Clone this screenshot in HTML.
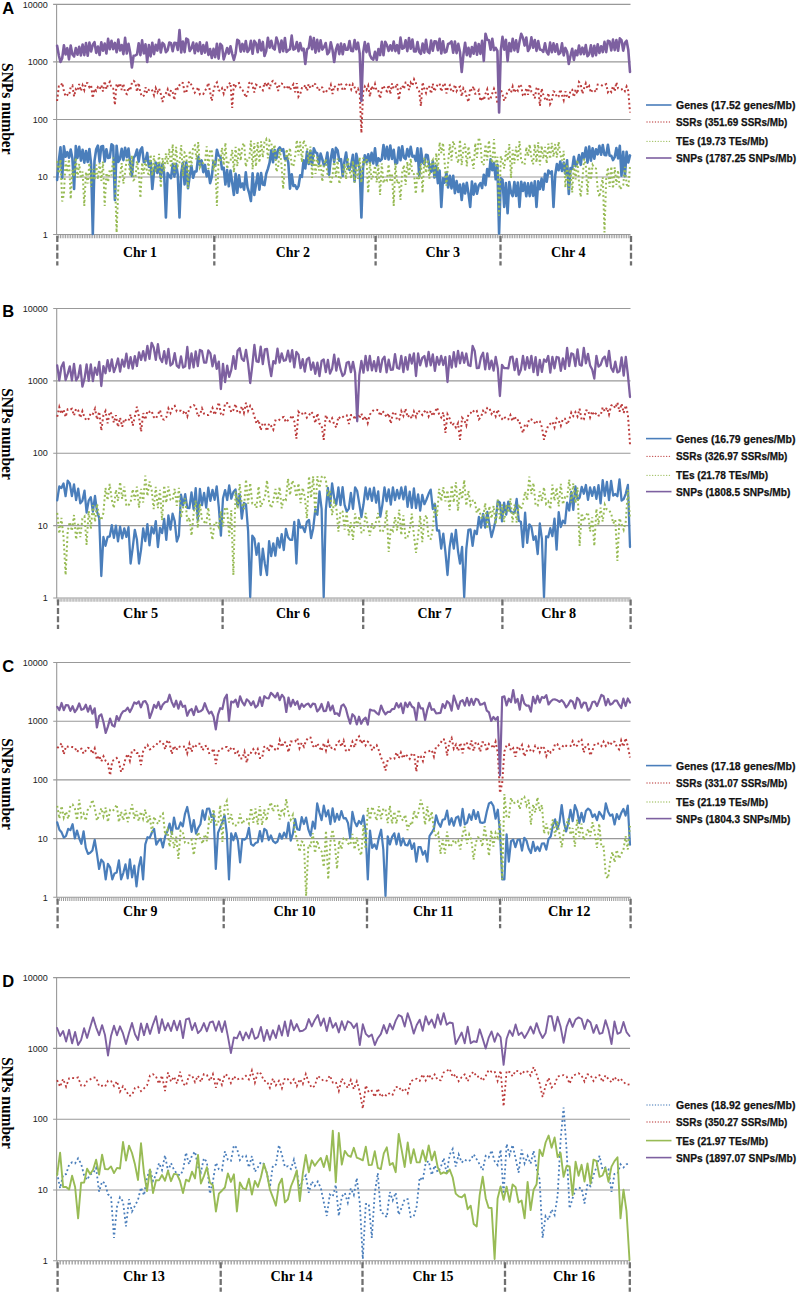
<!DOCTYPE html><html><head><meta charset="utf-8"><style>html,body{margin:0;padding:0;background:#fff;}svg{display:block;}</style></head><body><svg width="800" height="1298" viewBox="0 0 800 1298">
<rect width="800" height="1298" fill="#fff"/>
<line x1="53.1" y1="4.40" x2="630.5" y2="4.40" stroke="#999999" stroke-width="1.1"/>
<text x="47.8" y="7.60" text-anchor="end" font-family="Liberation Sans, sans-serif" font-size="9" fill="#222">10000</text>
<line x1="53.1" y1="61.92" x2="630.5" y2="61.92" stroke="#999999" stroke-width="1.1"/>
<text x="47.8" y="65.12" text-anchor="end" font-family="Liberation Sans, sans-serif" font-size="9" fill="#222">1000</text>
<line x1="53.1" y1="119.45" x2="630.5" y2="119.45" stroke="#999999" stroke-width="1.1"/>
<text x="47.8" y="122.65" text-anchor="end" font-family="Liberation Sans, sans-serif" font-size="9" fill="#222">100</text>
<line x1="53.1" y1="176.97" x2="630.5" y2="176.97" stroke="#999999" stroke-width="1.1"/>
<text x="47.8" y="180.17" text-anchor="end" font-family="Liberation Sans, sans-serif" font-size="9" fill="#222">10</text>
<line x1="53.1" y1="234.50" x2="630.5" y2="234.50" stroke="#999999" stroke-width="1.1"/>
<text x="47.8" y="237.70" text-anchor="end" font-family="Liberation Sans, sans-serif" font-size="9" fill="#222">1</text>
<line x1="56.6" y1="3.90" x2="56.6" y2="234.50" stroke="#999999" stroke-width="1.1"/>
<line x1="56.6" y1="236.50" x2="630.5" y2="236.50" stroke="#999" stroke-width="3.6" stroke-dasharray="0.9 0.8"/>
<line x1="57.3" y1="236.00" x2="57.3" y2="265.50" stroke="#6f6f6f" stroke-width="2.3" stroke-dasharray="6 2.4"/>
<line x1="214.3" y1="236.00" x2="214.3" y2="265.50" stroke="#6f6f6f" stroke-width="2.3" stroke-dasharray="6 2.4"/>
<line x1="375.6" y1="236.00" x2="375.6" y2="265.50" stroke="#6f6f6f" stroke-width="2.3" stroke-dasharray="6 2.4"/>
<line x1="500.5" y1="236.00" x2="500.5" y2="265.50" stroke="#6f6f6f" stroke-width="2.3" stroke-dasharray="6 2.4"/>
<line x1="631" y1="236.00" x2="631" y2="265.50" stroke="#6f6f6f" stroke-width="2.3" stroke-dasharray="6 2.4"/>
<text x="123.1" y="256.9" font-family="Liberation Serif, serif" font-weight="bold" font-size="14" textLength="33.9" lengthAdjust="spacingAndGlyphs" fill="#000">Chr 1</text>
<text x="275.75" y="256.9" font-family="Liberation Serif, serif" font-weight="bold" font-size="14" textLength="34.2" lengthAdjust="spacingAndGlyphs" fill="#000">Chr 2</text>
<text x="425.5" y="256.9" font-family="Liberation Serif, serif" font-weight="bold" font-size="14" textLength="34.5" lengthAdjust="spacingAndGlyphs" fill="#000">Chr 3</text>
<text x="551" y="256.9" font-family="Liberation Serif, serif" font-weight="bold" font-size="14" textLength="34.6" lengthAdjust="spacingAndGlyphs" fill="#000">Chr 4</text>
<text x="2.3" y="13.8" font-family="Liberation Sans, sans-serif" font-weight="bold" font-size="16.5" fill="#000">A</text>
<text transform="translate(1.8,108.8) rotate(90)" text-anchor="middle" font-family="Liberation Serif, serif" font-weight="bold" font-size="16" textLength="91.5" lengthAdjust="spacingAndGlyphs" fill="#000">SNPs number</text>
<path d="M57.1,180.0 L58.8,161.1 L60.5,147.2 L62.2,178.0 L63.9,146.4 L65.6,156.8 L67.3,152.2 L69.0,157.7 L70.7,149.5 L72.4,158.5 L74.1,189.0 L75.8,146.1 L77.5,157.9 L79.2,146.9 L80.9,160.6 L82.6,149.8 L84.3,162.7 L86.0,151.0 L87.7,162.0 L89.4,149.0 L91.1,164.2 L92.8,234.0 L94.5,160.9 L96.2,149.3 L97.9,145.6 L99.6,161.6 L101.3,146.4 L103.0,146.0 L104.7,161.5 L106.4,149.3 L108.1,157.9 L109.8,157.5 L111.5,144.3 L113.2,145.7 L114.9,200.0 L116.6,145.7 L118.3,161.9 L120.0,159.0 L121.7,148.7 L123.4,160.1 L125.1,147.7 L126.8,157.1 L128.5,148.6 L130.2,163.6 L131.9,176.0 L133.6,157.7 L135.3,155.4 L137.0,149.5 L138.7,161.6 L140.4,150.2 L142.1,147.3 L143.8,162.2 L145.5,161.3 L147.2,152.9 L148.9,166.8 L150.6,161.1 L152.3,189.0 L154.0,171.7 L155.7,162.6 L157.4,173.0 L159.1,163.7 L160.8,178.1 L162.5,164.0 L164.2,174.0 L165.9,217.5 L167.6,173.1 L169.3,176.0 L171.0,178.2 L172.7,164.1 L174.4,176.6 L176.1,163.7 L177.8,175.2 L179.5,217.5 L181.2,173.3 L182.9,162.8 L184.6,184.4 L186.3,162.3 L188.0,188.2 L189.7,175.7 L191.4,165.8 L193.1,177.8 L194.8,171.6 L196.5,171.4 L198.2,156.6 L199.9,164.9 L201.6,160.4 L203.3,172.1 L205.0,164.9 L206.7,176.4 L208.4,170.9 L210.1,183.1 L211.8,176.7 L213.5,161.5 L215.2,165.7 L216.9,149.7 L218.6,155.6 L220.3,156.2 L222.0,169.3 L223.7,167.6 L225.4,184.5 L227.1,170.1 L228.8,186.3 L230.5,170.5 L232.2,182.8 L233.9,195.0 L235.6,173.8 L237.3,192.8 L239.0,175.4 L240.7,187.3 L242.4,183.5 L244.1,189.7 L245.8,172.4 L247.5,187.4 L249.2,193.0 L250.9,201.1 L252.6,173.4 L254.3,195.0 L256.0,184.2 L257.7,173.5 L259.4,189.7 L261.1,173.0 L262.8,184.6 L264.5,185.1 L266.2,173.8 L267.9,168.9 L269.6,162.7 L271.3,150.2 L273.0,162.3 L274.7,150.0 L276.4,158.6 L278.1,149.5 L279.8,147.4 L281.5,150.6 L283.2,149.2 L284.9,159.0 L286.6,156.4 L288.3,162.7 L290.0,188.7 L291.7,174.2 L293.4,186.0 L295.1,185.3 L296.8,189.0 L298.5,186.2 L300.2,175.3 L301.9,176.8 L303.6,160.3 L305.3,168.5 L307.0,151.5 L308.7,164.0 L310.4,150.8 L312.1,165.3 L313.8,148.4 L315.5,152.2 L317.2,153.4 L318.9,163.7 L320.6,153.6 L322.3,159.2 L324.0,165.7 L325.7,161.9 L327.4,152.6 L329.1,174.6 L330.8,158.8 L332.5,149.2 L334.2,161.9 L335.9,147.9 L337.6,150.2 L339.3,160.8 L341.0,159.2 L342.7,176.0 L344.4,161.8 L346.1,152.5 L347.8,166.5 L349.5,169.9 L351.2,164.7 L352.9,154.7 L354.6,181.5 L356.3,153.7 L358.0,161.9 L359.7,168.4 L361.4,217.5 L363.1,167.0 L364.8,155.2 L366.5,162.4 L368.2,154.3 L369.9,162.6 L371.6,152.9 L373.3,163.5 L375.0,148.3 L376.7,165.1 L378.4,158.3 L380.1,160.8 L381.8,159.0 L383.5,145.0 L385.2,158.8 L386.9,146.9 L388.6,159.5 L390.3,145.5 L392.0,158.9 L393.7,149.7 L395.4,163.8 L397.1,163.0 L398.8,147.5 L400.5,160.3 L402.2,146.3 L403.9,157.5 L405.6,159.0 L407.3,149.0 L409.0,156.5 L410.7,146.9 L412.4,156.6 L414.1,155.9 L415.8,160.8 L417.5,148.4 L419.2,176.0 L420.9,148.6 L422.6,162.2 L424.3,164.3 L426.0,154.7 L427.7,155.2 L429.4,167.5 L431.1,171.8 L432.8,161.2 L434.5,177.5 L436.2,165.8 L437.9,183.2 L439.6,170.5 L441.3,207.0 L443.0,178.4 L444.7,182.6 L446.4,172.6 L448.1,187.5 L449.8,175.7 L451.5,188.4 L453.2,175.9 L454.9,193.1 L456.6,181.1 L458.3,192.0 L460.0,184.5 L461.7,200.0 L463.4,183.9 L465.1,193.5 L466.8,182.7 L468.5,193.6 L470.2,207.0 L471.9,181.6 L473.6,194.6 L475.3,183.8 L477.0,193.7 L478.7,185.8 L480.4,183.1 L482.1,188.0 L483.8,174.7 L485.5,185.1 L487.2,169.1 L488.9,175.9 L490.6,159.3 L492.3,170.3 L494.0,163.1 L495.7,179.3 L497.4,164.9 L499.1,233.4 L500.8,178.3 L502.5,179.7 L504.2,207.0 L505.9,183.0 L507.6,213.1 L509.3,182.0 L511.0,192.4 L512.7,196.1 L514.4,182.0 L516.1,196.0 L517.8,182.6 L519.5,207.0 L521.2,181.8 L522.9,191.0 L524.6,182.7 L526.3,196.3 L528.0,183.3 L529.7,196.2 L531.4,182.9 L533.1,195.9 L534.8,181.4 L536.5,207.0 L538.2,181.4 L539.9,189.1 L541.6,178.6 L543.3,189.7 L545.0,173.7 L546.7,181.7 L548.4,170.5 L550.1,173.3 L551.8,171.3 L553.5,207.0 L555.2,175.3 L556.9,164.0 L558.6,170.2 L560.3,161.5 L562.0,170.9 L563.7,162.6 L565.4,173.8 L567.1,160.4 L568.8,194.0 L570.5,168.1 L572.2,168.9 L573.9,156.8 L575.6,166.1 L577.3,163.2 L579.0,155.1 L580.7,164.9 L582.4,153.2 L584.1,157.8 L585.8,147.6 L587.5,162.7 L589.2,146.6 L590.9,160.7 L592.6,148.2 L594.3,158.7 L596.0,149.2 L597.7,154.3 L599.4,145.7 L601.1,154.7 L602.8,145.1 L604.5,154.9 L606.2,155.2 L607.9,144.7 L609.6,155.6 L611.3,155.7 L613.0,160.1 L614.7,157.2 L616.4,148.1 L618.1,158.4 L619.8,145.9 L621.5,175.7 L623.2,151.7 L624.9,176.1 L626.6,151.9 L628.3,162.5 L630.0,155.4" fill="none" stroke="#4A7EBB" stroke-width="2.6" stroke-linejoin="round" stroke-linecap="round"/>
<path d="M57.1,101.0 L58.8,86.5 L60.5,86.6 L62.2,82.8 L63.9,90.9 L65.6,96.4 L67.3,94.8 L69.0,95.5 L70.7,87.0 L72.4,85.6 L74.1,96.5 L75.8,89.2 L77.5,91.0 L79.2,84.1 L80.9,91.1 L82.6,85.4 L84.3,90.0 L86.0,82.6 L87.7,83.2 L89.4,87.2 L91.1,85.4 L92.8,98.0 L94.5,88.7 L96.2,90.9 L97.9,87.2 L99.6,89.2 L101.3,85.1 L103.0,91.5 L104.7,81.2 L106.4,89.2 L108.1,84.4 L109.8,81.8 L111.5,88.2 L113.2,88.7 L114.9,105.0 L116.6,83.7 L118.3,87.9 L120.0,83.0 L121.7,90.1 L123.4,83.8 L125.1,92.8 L126.8,94.0 L128.5,87.3 L130.2,90.6 L131.9,82.8 L133.6,80.9 L135.3,82.3 L137.0,91.7 L138.7,82.9 L140.4,92.8 L142.1,96.7 L143.8,95.7 L145.5,87.3 L147.2,93.0 L148.9,89.8 L150.6,88.8 L152.3,90.6 L154.0,95.3 L155.7,88.1 L157.4,92.3 L159.1,88.5 L160.8,93.9 L162.5,102.0 L164.2,95.3 L165.9,93.3 L167.6,89.4 L169.3,97.0 L171.0,90.0 L172.7,92.4 L174.4,100.0 L176.1,86.9 L177.8,88.8 L179.5,85.1 L181.2,82.6 L182.9,83.0 L184.6,92.6 L186.3,92.6 L188.0,83.2 L189.7,81.5 L191.4,84.9 L193.1,88.4 L194.8,92.6 L196.5,90.7 L198.2,87.1 L199.9,94.3 L201.6,93.3 L203.3,93.9 L205.0,90.7 L206.7,88.0 L208.4,82.9 L210.1,91.8 L211.8,101.0 L213.5,90.6 L215.2,84.6 L216.9,82.5 L218.6,90.3 L220.3,90.9 L222.0,88.3 L223.7,93.6 L225.4,87.8 L227.1,87.6 L228.8,84.0 L230.5,82.6 L232.2,108.0 L233.9,83.8 L235.6,86.2 L237.3,83.8 L239.0,83.1 L240.7,88.9 L242.4,90.0 L244.1,92.7 L245.8,97.5 L247.5,93.4 L249.2,82.9 L250.9,81.4 L252.6,85.6 L254.3,92.5 L256.0,84.7 L257.7,85.9 L259.4,85.8 L261.1,88.8 L262.8,90.3 L264.5,82.6 L266.2,86.5 L267.9,82.3 L269.6,88.9 L271.3,82.3 L273.0,80.9 L274.7,83.3 L276.4,83.8 L278.1,91.0 L279.8,84.0 L281.5,83.6 L283.2,84.2 L284.9,88.1 L286.6,88.7 L288.3,85.2 L290.0,90.2 L291.7,86.7 L293.4,84.3 L295.1,92.2 L296.8,83.2 L298.5,96.6 L300.2,93.9 L301.9,88.2 L303.6,88.5 L305.3,84.9 L307.0,90.9 L308.7,84.0 L310.4,88.1 L312.1,87.4 L313.8,83.2 L315.5,84.4 L317.2,87.5 L318.9,90.8 L320.6,87.1 L322.3,87.6 L324.0,92.7 L325.7,92.6 L327.4,89.5 L329.1,89.5 L330.8,84.9 L332.5,94.0 L334.2,85.9 L335.9,87.9 L337.6,89.5 L339.3,82.9 L341.0,83.5 L342.7,90.2 L344.4,90.1 L346.1,84.9 L347.8,83.3 L349.5,84.7 L351.2,89.3 L352.9,84.3 L354.6,87.3 L356.3,91.8 L358.0,88.8 L359.7,93.0 L361.4,133.0 L363.1,92.1 L364.8,86.7 L366.5,89.8 L368.2,85.7 L369.9,96.6 L371.6,86.0 L373.3,90.0 L375.0,84.2 L376.7,91.4 L378.4,91.2 L380.1,98.4 L381.8,89.1 L383.5,85.6 L385.2,89.5 L386.9,91.3 L388.6,84.9 L390.3,94.2 L392.0,83.5 L393.7,88.8 L395.4,87.4 L397.1,83.6 L398.8,100.0 L400.5,88.9 L402.2,85.5 L403.9,89.0 L405.6,82.6 L407.3,82.6 L409.0,90.1 L410.7,82.7 L412.4,85.7 L414.1,79.4 L415.8,82.8 L417.5,89.1 L419.2,91.4 L420.9,106.0 L422.6,82.2 L424.3,88.7 L426.0,92.8 L427.7,85.9 L429.4,87.0 L431.1,93.6 L432.8,83.7 L434.5,91.4 L436.2,87.0 L437.9,84.4 L439.6,83.4 L441.3,91.6 L443.0,85.6 L444.7,83.1 L446.4,93.4 L448.1,86.9 L449.8,85.2 L451.5,91.9 L453.2,91.0 L454.9,84.7 L456.6,91.0 L458.3,87.7 L460.0,86.7 L461.7,96.4 L463.4,88.3 L465.1,90.9 L466.8,97.5 L468.5,102.0 L470.2,88.2 L471.9,90.8 L473.6,86.3 L475.3,93.8 L477.0,93.2 L478.7,90.3 L480.4,101.0 L482.1,96.8 L483.8,100.3 L485.5,93.7 L487.2,89.5 L488.9,99.9 L490.6,98.2 L492.3,93.4 L494.0,88.8 L495.7,92.7 L497.4,103.4 L499.1,100.7 L500.8,89.6 L502.5,94.4 L504.2,101.0 L505.9,96.6 L507.6,91.1 L509.3,89.8 L511.0,92.5 L512.7,86.5 L514.4,92.6 L516.1,88.7 L517.8,90.6 L519.5,84.3 L521.2,86.2 L522.9,95.3 L524.6,96.2 L526.3,87.9 L528.0,94.8 L529.7,84.2 L531.4,91.7 L533.1,93.4 L534.8,98.4 L536.5,88.3 L538.2,87.2 L539.9,106.0 L541.6,88.5 L543.3,94.7 L545.0,98.8 L546.7,100.8 L548.4,93.0 L550.1,104.0 L551.8,100.5 L553.5,91.4 L555.2,92.1 L556.9,97.4 L558.6,96.5 L560.3,89.4 L562.0,95.1 L563.7,100.1 L565.4,91.4 L567.1,96.7 L568.8,98.2 L570.5,90.3 L572.2,89.8 L573.9,97.0 L575.6,89.4 L577.3,93.8 L579.0,82.1 L580.7,84.2 L582.4,93.7 L584.1,88.2 L585.8,83.3 L587.5,88.6 L589.2,86.1 L590.9,92.7 L592.6,89.6 L594.3,90.3 L596.0,92.1 L597.7,84.6 L599.4,84.8 L601.1,84.9 L602.8,86.1 L604.5,84.9 L606.2,84.2 L607.9,92.2 L609.6,90.0 L611.3,91.9 L613.0,86.1 L614.7,91.3 L616.4,82.3 L618.1,88.3 L619.8,89.4 L621.5,89.4 L623.2,88.6 L624.9,91.1 L626.6,86.5 L628.3,91.0 L630.0,112.5" fill="none" stroke="#BC3C3C" stroke-width="2.0" stroke-dasharray="1.9 2.6"/>
<path d="M57.1,161.1 L58.8,173.4 L60.5,159.5 L62.2,201.4 L63.9,194.6 L65.6,161.0 L67.3,172.4 L69.0,159.2 L70.7,199.0 L72.4,170.0 L74.1,176.7 L75.8,157.7 L77.5,177.7 L79.2,163.8 L80.9,178.5 L82.6,171.4 L84.3,206.0 L86.0,171.9 L87.7,183.5 L89.4,162.9 L91.1,187.0 L92.8,169.0 L94.5,180.4 L96.2,164.7 L97.9,179.3 L99.6,163.1 L101.3,180.9 L103.0,161.6 L104.7,206.0 L106.4,172.8 L108.1,182.1 L109.8,169.1 L111.5,175.5 L113.2,157.5 L114.9,176.5 L116.6,232.5 L118.3,187.7 L120.0,176.5 L121.7,163.0 L123.4,183.7 L125.1,172.2 L126.8,158.4 L128.5,159.7 L130.2,176.3 L131.9,155.3 L133.6,180.1 L135.3,178.7 L137.0,161.0 L138.7,173.0 L140.4,198.0 L142.1,162.7 L143.8,173.7 L145.5,160.2 L147.2,173.0 L148.9,174.0 L150.6,154.5 L152.3,175.8 L154.0,155.5 L155.7,170.5 L157.4,169.1 L159.1,153.9 L160.8,187.7 L162.5,157.9 L164.2,171.2 L165.9,153.3 L167.6,164.5 L169.3,148.7 L171.0,167.7 L172.7,144.2 L174.4,172.8 L176.1,146.9 L177.8,165.9 L179.5,162.7 L181.2,145.1 L182.9,176.2 L184.6,152.5 L186.3,153.8 L188.0,188.2 L189.7,150.5 L191.4,166.5 L193.1,146.8 L194.8,145.4 L196.5,159.8 L198.2,142.0 L199.9,167.2 L201.6,163.6 L203.3,162.9 L205.0,161.8 L206.7,146.4 L208.4,169.1 L210.1,149.5 L211.8,151.3 L213.5,170.4 L215.2,159.9 L216.9,206.0 L218.6,160.4 L220.3,162.1 L222.0,147.7 L223.7,165.2 L225.4,142.7 L227.1,169.0 L228.8,161.3 L230.5,161.1 L232.2,149.7 L233.9,172.3 L235.6,146.9 L237.3,166.2 L239.0,147.5 L240.7,160.6 L242.4,145.5 L244.1,143.0 L245.8,166.7 L247.5,160.0 L249.2,159.6 L250.9,140.6 L252.6,169.4 L254.3,143.0 L256.0,166.5 L257.7,142.0 L259.4,162.6 L261.1,141.4 L262.8,157.4 L264.5,141.9 L266.2,139.4 L267.9,158.5 L269.6,140.8 L271.3,143.3 L273.0,152.5 L274.7,144.7 L276.4,171.9 L278.1,167.3 L279.8,149.1 L281.5,164.9 L283.2,189.0 L284.9,165.3 L286.6,149.2 L288.3,159.3 L290.0,148.0 L291.7,165.4 L293.4,166.4 L295.1,157.0 L296.8,140.1 L298.5,155.5 L300.2,141.7 L301.9,162.2 L303.6,140.0 L305.3,145.3 L307.0,146.1 L308.7,163.7 L310.4,146.5 L312.1,178.0 L313.8,153.7 L315.5,174.0 L317.2,156.8 L318.9,170.5 L320.6,163.5 L322.3,181.7 L324.0,164.1 L325.7,159.1 L327.4,173.9 L329.1,174.7 L330.8,184.0 L332.5,176.2 L334.2,159.7 L335.9,176.9 L337.6,158.6 L339.3,184.0 L341.0,177.0 L342.7,174.7 L344.4,163.8 L346.1,179.3 L347.8,157.5 L349.5,169.8 L351.2,178.6 L352.9,160.8 L354.6,182.7 L356.3,163.6 L358.0,179.0 L359.7,157.4 L361.4,182.8 L363.1,157.7 L364.8,161.9 L366.5,158.8 L368.2,193.0 L369.9,162.0 L371.6,179.8 L373.3,175.3 L375.0,165.7 L376.7,182.5 L378.4,164.9 L380.1,195.0 L381.8,163.3 L383.5,183.2 L385.2,178.5 L386.9,180.3 L388.6,164.4 L390.3,182.1 L392.0,173.3 L393.7,206.0 L395.4,163.5 L397.1,183.5 L398.8,180.4 L400.5,200.0 L402.2,172.4 L403.9,165.1 L405.6,185.0 L407.3,161.7 L409.0,175.8 L410.7,158.6 L412.4,173.7 L414.1,174.2 L415.8,194.0 L417.5,171.6 L419.2,179.5 L420.9,163.6 L422.6,193.0 L424.3,157.7 L426.0,172.9 L427.7,159.6 L429.4,178.6 L431.1,162.9 L432.8,159.9 L434.5,177.1 L436.2,153.1 L437.9,171.1 L439.6,142.3 L441.3,153.0 L443.0,142.9 L444.7,163.5 L446.4,185.6 L448.1,163.4 L449.8,144.0 L451.5,160.6 L453.2,141.0 L454.9,146.7 L456.6,157.5 L458.3,163.1 L460.0,139.7 L461.7,165.2 L463.4,148.8 L465.1,143.5 L466.8,166.3 L468.5,146.6 L470.2,158.7 L471.9,159.0 L473.6,168.9 L475.3,143.1 L477.0,157.8 L478.7,137.5 L480.4,142.6 L482.1,164.9 L483.8,164.2 L485.5,144.4 L487.2,160.5 L488.9,140.4 L490.6,156.8 L492.3,163.0 L494.0,139.1 L495.7,165.7 L497.4,156.7 L499.1,215.6 L500.8,156.0 L502.5,161.5 L504.2,168.6 L505.9,150.9 L507.6,160.9 L509.3,144.0 L511.0,178.1 L512.7,149.9 L514.4,163.6 L516.1,146.7 L517.8,160.3 L519.5,141.1 L521.2,160.4 L522.9,163.9 L524.6,164.7 L526.3,147.2 L528.0,156.1 L529.7,144.4 L531.4,158.2 L533.1,164.3 L534.8,144.3 L536.5,162.4 L538.2,142.2 L539.9,165.3 L541.6,145.7 L543.3,158.8 L545.0,146.9 L546.7,163.5 L548.4,143.6 L550.1,158.9 L551.8,142.8 L553.5,156.8 L555.2,144.0 L556.9,157.7 L558.6,141.9 L560.3,154.7 L562.0,160.5 L563.7,150.8 L565.4,187.5 L567.1,164.2 L568.8,189.5 L570.5,169.3 L572.2,192.5 L573.9,165.1 L575.6,179.3 L577.3,159.9 L579.0,182.1 L580.7,197.0 L582.4,179.1 L584.1,158.9 L585.8,165.3 L587.5,194.7 L589.2,166.5 L590.9,179.9 L592.6,164.9 L594.3,168.0 L596.0,168.7 L597.7,189.7 L599.4,197.0 L601.1,187.1 L602.8,177.2 L604.5,232.5 L606.2,179.3 L607.9,167.5 L609.6,187.0 L611.3,166.5 L613.0,188.6 L614.7,167.4 L616.4,185.0 L618.1,170.3 L619.8,189.3 L621.5,187.5 L623.2,185.4 L624.9,166.8 L626.6,184.2 L628.3,187.5 L630.0,166.4" fill="none" stroke="#98BB55" stroke-width="2.0" stroke-dasharray="1.9 2.6"/>
<path d="M57.1,45.7 L58.8,55.3 L60.5,62.0 L62.2,58.2 L63.9,45.3 L65.6,54.4 L67.3,48.2 L69.0,59.4 L70.7,45.5 L72.4,54.5 L74.1,56.5 L75.8,48.0 L77.5,54.7 L79.2,46.8 L80.9,55.4 L82.6,44.5 L84.3,55.1 L86.0,43.0 L87.7,55.8 L89.4,42.6 L91.1,51.5 L92.8,44.8 L94.5,42.1 L96.2,52.9 L97.9,46.5 L99.6,55.0 L101.3,42.3 L103.0,50.8 L104.7,43.6 L106.4,53.5 L108.1,38.9 L109.8,49.3 L111.5,40.8 L113.2,49.2 L114.9,42.9 L116.6,52.3 L118.3,39.5 L120.0,50.5 L121.7,45.0 L123.4,54.1 L125.1,37.8 L126.8,53.5 L128.5,43.8 L130.2,52.8 L131.9,67.5 L133.6,55.7 L135.3,55.5 L137.0,54.4 L138.7,43.3 L140.4,55.1 L142.1,40.4 L143.8,53.4 L145.5,44.2 L147.2,62.0 L148.9,45.0 L150.6,56.4 L152.3,42.7 L154.0,54.1 L155.7,44.9 L157.4,50.6 L159.1,39.8 L160.8,52.5 L162.5,42.9 L164.2,44.7 L165.9,52.3 L167.6,50.1 L169.3,42.5 L171.0,43.3 L172.7,51.3 L174.4,42.8 L176.1,43.0 L177.8,49.9 L179.5,30.0 L181.2,52.5 L182.9,41.5 L184.6,52.1 L186.3,38.5 L188.0,39.5 L189.7,51.0 L191.4,48.4 L193.1,42.5 L194.8,53.2 L196.5,43.6 L198.2,51.3 L199.9,42.4 L201.6,53.8 L203.3,45.0 L205.0,52.6 L206.7,42.6 L208.4,54.9 L210.1,49.1 L211.8,58.0 L213.5,48.9 L215.2,57.2 L216.9,43.7 L218.6,58.7 L220.3,43.9 L222.0,45.8 L223.7,59.4 L225.4,53.8 L227.1,48.0 L228.8,53.6 L230.5,46.2 L232.2,53.8 L233.9,60.0 L235.6,53.5 L237.3,39.7 L239.0,41.1 L240.7,51.6 L242.4,43.9 L244.1,51.2 L245.8,41.0 L247.5,52.0 L249.2,49.6 L250.9,40.8 L252.6,53.8 L254.3,40.9 L256.0,43.3 L257.7,52.2 L259.4,40.1 L261.1,50.4 L262.8,41.9 L264.5,56.0 L266.2,51.0 L267.9,37.7 L269.6,47.6 L271.3,40.8 L273.0,48.1 L274.7,49.5 L276.4,37.5 L278.1,42.6 L279.8,52.1 L281.5,40.5 L283.2,51.3 L284.9,38.0 L286.6,52.0 L288.3,50.1 L290.0,49.1 L291.7,35.6 L293.4,49.6 L295.1,48.8 L296.8,42.1 L298.5,51.3 L300.2,43.0 L301.9,50.3 L303.6,48.7 L305.3,64.0 L307.0,49.3 L308.7,47.9 L310.4,36.8 L312.1,49.3 L313.8,38.0 L315.5,52.7 L317.2,39.9 L318.9,51.2 L320.6,40.4 L322.3,49.6 L324.0,47.1 L325.7,43.0 L327.4,54.3 L329.1,52.0 L330.8,42.3 L332.5,49.8 L334.2,62.0 L335.9,49.7 L337.6,44.6 L339.3,54.1 L341.0,43.5 L342.7,54.2 L344.4,44.3 L346.1,49.8 L347.8,49.6 L349.5,41.0 L351.2,50.8 L352.9,51.2 L354.6,40.1 L356.3,49.2 L358.0,42.7 L359.7,53.5 L361.4,101.0 L363.1,52.9 L364.8,42.1 L366.5,52.1 L368.2,43.7 L369.9,55.0 L371.6,58.5 L373.3,59.6 L375.0,51.8 L376.7,60.0 L378.4,49.1 L380.1,55.1 L381.8,41.9 L383.5,55.3 L385.2,41.7 L386.9,45.0 L388.6,51.0 L390.3,45.3 L392.0,50.5 L393.7,41.6 L395.4,51.1 L397.1,45.2 L398.8,53.3 L400.5,37.6 L402.2,48.7 L403.9,47.9 L405.6,40.3 L407.3,51.1 L409.0,38.0 L410.7,48.8 L412.4,39.5 L414.1,51.5 L415.8,51.5 L417.5,42.0 L419.2,51.8 L420.9,53.8 L422.6,43.6 L424.3,52.6 L426.0,39.9 L427.7,51.6 L429.4,53.1 L431.1,40.6 L432.8,50.7 L434.5,41.3 L436.2,41.5 L437.9,50.2 L439.6,38.7 L441.3,53.5 L443.0,41.2 L444.7,52.5 L446.4,51.6 L448.1,43.9 L449.8,43.3 L451.5,41.5 L453.2,52.8 L454.9,41.5 L456.6,53.1 L458.3,43.9 L460.0,51.9 L461.7,72.0 L463.4,54.8 L465.1,42.8 L466.8,55.1 L468.5,47.8 L470.2,56.5 L471.9,47.1 L473.6,53.8 L475.3,42.8 L477.0,54.8 L478.7,44.0 L480.4,53.9 L482.1,40.8 L483.8,61.0 L485.5,33.7 L487.2,39.7 L488.9,40.2 L490.6,49.8 L492.3,38.8 L494.0,50.3 L495.7,47.9 L497.4,50.8 L499.1,112.5 L500.8,50.3 L502.5,36.9 L504.2,49.7 L505.9,39.7 L507.6,61.0 L509.3,43.0 L511.0,51.3 L512.7,38.7 L514.4,50.4 L516.1,40.4 L517.8,51.9 L519.5,41.7 L521.2,33.8 L522.9,37.7 L524.6,45.6 L526.3,37.5 L528.0,51.0 L529.7,48.0 L531.4,37.4 L533.1,47.8 L534.8,40.0 L536.5,50.9 L538.2,41.1 L539.9,49.5 L541.6,49.9 L543.3,51.8 L545.0,43.2 L546.7,52.1 L548.4,54.4 L550.1,42.6 L551.8,52.3 L553.5,43.4 L555.2,51.7 L556.9,44.2 L558.6,54.2 L560.3,52.8 L562.0,43.4 L563.7,55.4 L565.4,47.9 L567.1,51.8 L568.8,64.0 L570.5,55.7 L572.2,48.8 L573.9,59.9 L575.6,50.5 L577.3,55.2 L579.0,45.6 L580.7,54.2 L582.4,47.7 L584.1,54.1 L585.8,45.1 L587.5,56.3 L589.2,54.1 L590.9,45.2 L592.6,56.3 L594.3,45.7 L596.0,55.2 L597.7,44.2 L599.4,53.0 L601.1,46.2 L602.8,52.1 L604.5,41.9 L606.2,52.1 L607.9,40.8 L609.6,41.4 L611.3,50.4 L613.0,39.6 L614.7,50.1 L616.4,40.0 L618.1,50.8 L619.8,38.4 L621.5,40.1 L623.2,50.6 L624.9,42.9 L626.6,40.7 L628.3,50.0 L630.0,72.0" fill="none" stroke="#7D60A0" stroke-width="2.6" stroke-linejoin="round" stroke-linecap="round"/>
<line x1="646" y1="105" x2="671.5" y2="105" stroke="#4A7EBB" stroke-width="1.6"/>
<text x="676" y="109.0" font-family="Liberation Sans, sans-serif" font-weight="bold" font-size="11" textLength="119.4" lengthAdjust="spacingAndGlyphs" fill="#111" stroke="#111" stroke-width="0.25">Genes (17.52 genes/Mb)</text>
<line x1="647" y1="122" x2="671.5" y2="122" stroke="#BC3C3C" stroke-width="1.3" stroke-linecap="round" stroke-dasharray="0.1 2.7" stroke-opacity="0.85"/>
<text x="676" y="126.0" font-family="Liberation Sans, sans-serif" font-weight="bold" font-size="11" textLength="111.3" lengthAdjust="spacingAndGlyphs" fill="#111" stroke="#111" stroke-width="0.25">SSRs (351.69 SSRs/Mb)</text>
<line x1="647" y1="141.4" x2="671.5" y2="141.4" stroke="#98BB55" stroke-width="1.3" stroke-linecap="round" stroke-dasharray="0.1 2.7" stroke-opacity="0.85"/>
<text x="676" y="145.4" font-family="Liberation Sans, sans-serif" font-weight="bold" font-size="11" textLength="92.1" lengthAdjust="spacingAndGlyphs" fill="#111" stroke="#111" stroke-width="0.25">TEs (19.73 TEs/Mb)</text>
<line x1="646" y1="158" x2="671.5" y2="158" stroke="#7D60A0" stroke-width="1.6"/>
<text x="676" y="162.0" font-family="Liberation Sans, sans-serif" font-weight="bold" font-size="11" textLength="120.2" lengthAdjust="spacingAndGlyphs" fill="#111" stroke="#111" stroke-width="0.25">SNPs (1787.25 SNPs/Mb)</text>
<line x1="53.2" y1="308.50" x2="630.5" y2="308.50" stroke="#999999" stroke-width="1.1"/>
<text x="47.8" y="311.70" text-anchor="end" font-family="Liberation Sans, sans-serif" font-size="9" fill="#222">10000</text>
<line x1="53.2" y1="380.88" x2="630.5" y2="380.88" stroke="#999999" stroke-width="1.1"/>
<text x="47.8" y="384.07" text-anchor="end" font-family="Liberation Sans, sans-serif" font-size="9" fill="#222">1000</text>
<line x1="53.2" y1="453.25" x2="630.5" y2="453.25" stroke="#999999" stroke-width="1.1"/>
<text x="47.8" y="456.45" text-anchor="end" font-family="Liberation Sans, sans-serif" font-size="9" fill="#222">100</text>
<line x1="53.2" y1="525.62" x2="630.5" y2="525.62" stroke="#999999" stroke-width="1.1"/>
<text x="47.8" y="528.83" text-anchor="end" font-family="Liberation Sans, sans-serif" font-size="9" fill="#222">10</text>
<line x1="53.2" y1="598.00" x2="630.5" y2="598.00" stroke="#999999" stroke-width="1.1"/>
<text x="47.8" y="601.20" text-anchor="end" font-family="Liberation Sans, sans-serif" font-size="9" fill="#222">1</text>
<line x1="56.7" y1="308.00" x2="56.7" y2="598.00" stroke="#999999" stroke-width="1.1"/>
<line x1="56.7" y1="600.00" x2="630.5" y2="600.00" stroke="#b4b4b4" stroke-width="3.6" stroke-dasharray="1 0.5"/>
<line x1="58" y1="599.50" x2="58" y2="629.00" stroke="#6f6f6f" stroke-width="2.3" stroke-dasharray="6 2.4"/>
<line x1="222.6" y1="599.50" x2="222.6" y2="629.00" stroke="#6f6f6f" stroke-width="2.3" stroke-dasharray="6 2.4"/>
<line x1="363.2" y1="599.50" x2="363.2" y2="629.00" stroke="#6f6f6f" stroke-width="2.3" stroke-dasharray="6 2.4"/>
<line x1="502.4" y1="599.50" x2="502.4" y2="629.00" stroke="#6f6f6f" stroke-width="2.3" stroke-dasharray="6 2.4"/>
<line x1="630.6" y1="599.50" x2="630.6" y2="629.00" stroke="#6f6f6f" stroke-width="2.3" stroke-dasharray="6 2.4"/>
<text x="123.1" y="617.7" font-family="Liberation Serif, serif" font-weight="bold" font-size="14" textLength="35.0" lengthAdjust="spacingAndGlyphs" fill="#000">Chr 5</text>
<text x="276" y="617.7" font-family="Liberation Serif, serif" font-weight="bold" font-size="14" textLength="34.0" lengthAdjust="spacingAndGlyphs" fill="#000">Chr 6</text>
<text x="417.6" y="617.7" font-family="Liberation Serif, serif" font-weight="bold" font-size="14" textLength="34.1" lengthAdjust="spacingAndGlyphs" fill="#000">Chr 7</text>
<text x="541.3" y="617.7" font-family="Liberation Serif, serif" font-weight="bold" font-size="14" textLength="34.9" lengthAdjust="spacingAndGlyphs" fill="#000">Chr 8</text>
<text x="2.3" y="316.7" font-family="Liberation Sans, sans-serif" font-weight="bold" font-size="16.5" fill="#000">B</text>
<text transform="translate(1.8,434) rotate(90)" text-anchor="middle" font-family="Liberation Serif, serif" font-weight="bold" font-size="16" textLength="91.5" lengthAdjust="spacingAndGlyphs" fill="#000">SNPs number</text>
<path d="M57.2,500.4 L59.3,486.3 L61.4,488.1 L63.5,483.5 L65.6,496.2 L67.7,480.6 L69.8,483.5 L71.9,496.0 L74.0,484.4 L76.1,500.1 L78.2,488.6 L80.3,503.4 L82.4,500.7 L84.5,490.7 L86.6,512.6 L88.7,500.5 L90.8,497.2 L92.9,511.5 L95.0,496.0 L97.1,511.9 L99.2,518.2 L101.3,576.0 L103.4,537.0 L105.5,545.8 L107.6,536.9 L109.7,536.5 L111.8,525.2 L113.9,537.9 L115.9,525.7 L118.0,541.3 L120.1,526.6 L122.2,538.4 L124.3,528.3 L126.4,536.9 L128.5,527.2 L130.6,563.5 L132.7,548.0 L134.8,529.8 L136.9,539.4 L139.0,563.5 L141.1,549.3 L143.2,528.4 L145.3,541.1 L147.4,524.2 L149.5,545.4 L151.6,527.1 L153.7,533.5 L155.8,521.2 L157.9,547.0 L160.0,527.8 L162.1,533.1 L164.2,519.0 L166.3,539.9 L168.4,515.3 L170.5,529.7 L172.6,513.7 L174.7,521.1 L176.8,541.5 L178.9,535.6 L181.0,494.6 L183.1,505.6 L185.2,494.1 L187.3,507.8 L189.4,508.1 L191.5,492.3 L193.6,509.1 L195.7,488.1 L197.8,520.3 L199.9,489.0 L202.0,505.2 L204.1,492.9 L206.2,507.7 L208.3,487.7 L210.4,500.9 L212.5,489.8 L214.6,499.8 L216.7,486.3 L218.8,507.1 L220.9,535.7 L223.0,498.3 L225.1,490.1 L227.2,500.0 L229.2,485.4 L231.3,498.7 L233.4,492.0 L235.5,489.5 L237.6,506.0 L239.7,494.5 L241.8,518.6 L243.9,502.9 L246.0,504.4 L248.1,530.8 L250.2,597.0 L252.3,535.6 L254.4,538.7 L256.5,554.8 L258.6,543.4 L260.7,575.0 L262.8,548.7 L264.9,563.9 L267.0,575.0 L269.1,541.2 L271.2,556.0 L273.3,543.3 L275.4,555.7 L277.5,537.8 L279.6,547.6 L281.7,534.1 L283.8,550.0 L285.9,528.9 L288.0,537.3 L290.1,539.9 L292.2,539.8 L294.3,521.8 L296.4,563.5 L298.5,519.8 L300.6,527.7 L302.7,526.8 L304.8,532.1 L306.9,521.8 L309.0,519.9 L311.1,538.0 L313.2,528.4 L315.3,509.5 L317.4,514.8 L319.5,491.4 L321.6,508.9 L323.7,597.0 L325.8,510.2 L327.9,487.8 L330.0,506.8 L332.1,483.3 L334.2,497.9 L336.3,504.4 L338.4,487.3 L340.5,505.2 L342.6,487.1 L344.6,504.8 L346.7,511.5 L348.8,508.9 L350.9,492.9 L353.0,508.8 L355.1,487.4 L357.2,491.1 L359.3,503.7 L361.4,517.0 L363.5,504.3 L365.6,487.5 L367.7,499.4 L369.8,488.6 L371.9,500.9 L374.0,487.6 L376.1,502.7 L378.2,491.4 L380.3,516.7 L382.4,504.6 L384.5,487.3 L386.6,501.2 L388.7,489.5 L390.8,504.7 L392.9,487.3 L395.0,500.1 L397.1,489.9 L399.2,498.5 L401.3,487.5 L403.4,499.3 L405.5,486.7 L407.6,506.9 L409.7,491.6 L411.8,507.9 L413.9,488.3 L416.0,508.1 L418.1,494.5 L420.2,510.5 L422.3,495.0 L424.4,504.2 L426.5,499.5 L428.6,493.8 L430.7,489.6 L432.8,509.0 L434.9,503.7 L437.0,530.5 L439.1,530.4 L441.2,548.7 L443.3,533.7 L445.4,551.8 L447.5,575.0 L449.6,547.3 L451.7,533.6 L453.8,548.5 L455.9,529.8 L458.0,551.0 L460.0,563.5 L462.1,547.0 L464.2,597.0 L466.3,549.2 L468.4,529.9 L470.5,529.4 L472.6,545.9 L474.7,530.7 L476.8,534.1 L478.9,516.9 L481.0,527.6 L483.1,513.8 L485.2,527.7 L487.3,511.8 L489.4,524.5 L491.5,537.0 L493.6,529.0 L495.7,519.8 L497.8,500.8 L499.9,502.7 L502.0,521.4 L504.1,502.6 L506.2,514.5 L508.3,501.6 L510.4,511.2 L512.5,512.6 L514.6,512.7 L516.7,499.0 L518.8,520.9 L520.9,521.7 L523.0,547.0 L525.1,512.7 L527.2,542.9 L529.3,524.3 L531.4,526.9 L533.5,539.9 L535.6,536.2 L537.7,554.0 L539.8,523.5 L541.9,539.0 L544.0,597.0 L546.1,536.3 L548.2,537.3 L550.3,528.2 L552.4,536.2 L554.5,518.6 L556.6,549.7 L558.7,512.2 L560.8,527.0 L562.9,520.6 L565.0,523.4 L567.1,502.6 L569.2,510.5 L571.3,492.0 L573.3,509.9 L575.4,486.5 L577.5,499.9 L579.6,497.8 L581.7,486.9 L583.8,493.7 L585.9,485.0 L588.0,499.8 L590.1,487.5 L592.2,495.9 L594.3,487.2 L596.4,498.8 L598.5,485.2 L600.6,503.4 L602.7,480.2 L604.8,495.8 L606.9,481.9 L609.0,500.2 L611.1,480.9 L613.2,495.6 L615.3,494.0 L617.4,496.2 L619.5,479.3 L621.6,500.7 L623.7,499.1 L625.8,493.6 L627.9,484.9 L630.0,547.0" fill="none" stroke="#4A7EBB" stroke-width="2.3" stroke-linejoin="round" stroke-linecap="round"/>
<path d="M57.2,416.7 L59.3,407.2 L61.4,413.9 L63.5,409.4 L65.6,417.0 L67.7,409.3 L69.8,410.0 L71.9,408.8 L74.0,415.5 L76.1,408.7 L78.2,410.4 L80.3,417.7 L82.4,411.2 L84.5,417.3 L86.6,420.6 L88.7,418.8 L90.8,412.8 L92.9,413.8 L95.0,408.7 L97.1,419.6 L99.2,411.7 L101.3,430.6 L103.4,415.1 L105.5,411.1 L107.6,423.4 L109.7,411.8 L111.8,413.9 L113.9,422.7 L115.9,415.2 L118.0,427.0 L120.1,417.7 L122.2,426.7 L124.3,418.9 L126.4,420.7 L128.5,421.0 L130.6,414.4 L132.7,425.7 L134.8,416.7 L136.9,406.7 L139.0,416.7 L141.1,431.7 L143.2,413.0 L145.3,419.7 L147.4,410.9 L149.5,411.9 L151.6,410.9 L153.7,417.0 L155.8,418.7 L157.9,414.5 L160.0,410.1 L162.1,419.0 L164.2,419.6 L166.3,417.3 L168.4,408.5 L170.5,413.0 L172.6,407.4 L174.7,405.9 L176.8,411.3 L178.9,410.7 L181.0,410.7 L183.1,412.8 L185.2,410.7 L187.3,416.3 L189.4,408.1 L191.5,406.3 L193.6,405.1 L195.7,406.1 L197.8,416.5 L199.9,414.8 L202.0,408.4 L204.1,413.7 L206.2,414.9 L208.3,415.0 L210.4,412.6 L212.5,408.0 L214.6,414.9 L216.7,409.8 L218.8,402.3 L220.9,413.8 L223.0,415.8 L225.1,403.2 L227.2,403.1 L229.2,405.7 L231.3,412.3 L233.4,409.9 L235.5,404.0 L237.6,412.6 L239.7,412.8 L241.8,406.4 L243.9,412.9 L246.0,402.8 L248.1,410.8 L250.2,405.9 L252.3,409.4 L254.4,416.3 L256.5,423.6 L258.6,419.8 L260.7,430.3 L262.8,423.0 L264.9,424.4 L267.0,431.1 L269.1,423.5 L271.2,426.0 L273.3,429.6 L275.4,420.5 L277.5,421.2 L279.6,419.6 L281.7,417.6 L283.8,417.0 L285.9,422.2 L288.0,420.2 L290.1,418.6 L292.2,415.3 L294.3,421.3 L296.4,438.7 L298.5,411.8 L300.6,414.4 L302.7,413.5 L304.8,411.9 L306.9,417.7 L309.0,415.4 L311.1,411.8 L313.2,414.4 L315.3,423.1 L317.4,413.3 L319.5,423.6 L321.6,425.4 L323.7,439.8 L325.8,415.0 L327.9,419.7 L330.0,421.5 L332.1,418.3 L334.2,424.4 L336.3,427.5 L338.4,416.7 L340.5,418.7 L342.6,417.3 L344.6,415.7 L346.7,415.3 L348.8,424.1 L350.9,415.2 L353.0,415.0 L355.1,419.6 L357.2,412.4 L359.3,418.4 L361.4,413.6 L363.5,420.3 L365.6,416.3 L367.7,423.0 L369.8,414.7 L371.9,411.8 L374.0,409.7 L376.1,409.6 L378.2,410.2 L380.3,415.8 L382.4,411.0 L384.5,413.5 L386.6,417.2 L388.7,413.4 L390.8,423.6 L392.9,413.3 L395.0,412.0 L397.1,420.1 L399.2,419.7 L401.3,411.1 L403.4,415.9 L405.5,408.6 L407.6,417.2 L409.7,414.9 L411.8,418.5 L413.9,411.5 L416.0,416.9 L418.1,410.5 L420.2,412.1 L422.3,414.9 L424.4,411.7 L426.5,410.2 L428.6,416.3 L430.7,410.8 L432.8,416.0 L434.9,412.2 L437.0,407.5 L439.1,414.2 L441.2,417.4 L443.3,412.3 L445.4,433.0 L447.5,414.4 L449.6,418.5 L451.7,425.4 L453.8,423.9 L455.9,427.5 L458.0,423.2 L460.0,439.8 L462.1,417.8 L464.2,419.9 L466.3,425.5 L468.4,414.3 L470.5,413.3 L472.6,410.2 L474.7,412.4 L476.8,411.1 L478.9,419.3 L481.0,417.0 L483.1,410.8 L485.2,413.7 L487.3,407.8 L489.4,408.2 L491.5,413.8 L493.6,410.7 L495.7,416.2 L497.8,409.6 L499.9,416.3 L502.0,419.0 L504.1,416.4 L506.2,419.3 L508.3,419.3 L510.4,415.1 L512.5,421.1 L514.6,416.2 L516.7,420.8 L518.8,419.7 L520.9,426.9 L523.0,433.0 L525.1,424.2 L527.2,425.8 L529.3,419.1 L531.4,419.5 L533.5,420.9 L535.6,424.3 L537.7,420.6 L539.8,421.2 L541.9,427.2 L544.0,439.8 L546.1,431.8 L548.2,425.4 L550.3,423.7 L552.4,421.8 L554.5,427.3 L556.6,418.4 L558.7,420.6 L560.8,425.7 L562.9,418.9 L565.0,418.7 L567.1,424.5 L569.2,420.0 L571.3,412.6 L573.3,416.0 L575.4,412.1 L577.5,416.4 L579.6,408.8 L581.7,420.0 L583.8,419.4 L585.9,410.6 L588.0,410.0 L590.1,417.4 L592.2,411.3 L594.3,415.4 L596.4,412.9 L598.5,415.4 L600.6,415.4 L602.7,407.3 L604.8,411.4 L606.9,407.6 L609.0,414.5 L611.1,405.7 L613.2,404.6 L615.3,408.3 L617.4,402.5 L619.5,411.7 L621.6,403.6 L623.7,412.9 L625.8,405.4 L627.9,414.7 L630.0,444.4" fill="none" stroke="#BC3C3C" stroke-width="2.0" stroke-dasharray="1.9 2.6"/>
<path d="M57.2,512.9 L59.3,533.6 L61.4,517.9 L63.5,537.0 L65.6,575.0 L67.7,530.8 L69.8,522.0 L71.9,530.9 L74.0,515.0 L76.1,539.5 L78.2,524.0 L80.3,537.2 L82.4,518.5 L84.5,516.4 L86.6,544.9 L88.7,511.0 L90.8,528.8 L92.9,505.2 L95.0,521.7 L97.1,503.9 L99.2,517.1 L101.3,520.3 L103.4,513.0 L105.5,487.9 L107.6,500.2 L109.7,484.0 L111.8,500.0 L113.9,508.1 L115.9,489.9 L118.0,501.0 L120.1,482.0 L122.2,498.8 L124.3,486.6 L126.4,506.1 L128.5,505.2 L130.6,502.5 L132.7,489.2 L134.8,500.1 L136.9,486.7 L139.0,507.7 L141.1,488.9 L143.2,502.5 L145.3,475.6 L147.4,496.1 L149.5,481.4 L151.6,489.8 L153.7,509.1 L155.8,486.9 L157.9,508.2 L160.0,489.8 L162.1,520.3 L164.2,485.5 L166.3,502.8 L168.4,486.3 L170.5,499.7 L172.6,500.3 L174.7,488.8 L176.8,505.9 L178.9,487.8 L181.0,517.6 L183.1,507.6 L185.2,498.3 L187.3,521.6 L189.4,517.5 L191.5,535.7 L193.6,514.2 L195.7,500.7 L197.8,528.0 L199.9,503.8 L202.0,519.8 L204.1,521.8 L206.2,524.2 L208.3,507.6 L210.4,527.3 L212.5,540.0 L214.6,522.2 L216.7,523.0 L218.8,527.2 L220.9,511.1 L223.0,526.3 L225.1,507.2 L227.2,509.2 L229.2,536.1 L231.3,510.2 L233.4,575.0 L235.5,491.5 L237.6,508.8 L239.7,484.0 L241.8,504.3 L243.9,509.1 L246.0,479.4 L248.1,503.7 L250.2,483.0 L252.3,503.4 L254.4,503.1 L256.5,508.0 L258.6,486.4 L260.7,507.0 L262.8,501.5 L264.9,497.3 L267.0,480.3 L269.1,501.9 L271.2,508.0 L273.3,500.8 L275.4,489.0 L277.5,502.3 L279.6,487.0 L281.7,508.3 L283.8,498.0 L285.9,499.6 L288.0,478.7 L290.1,495.0 L292.2,480.5 L294.3,484.4 L296.4,497.1 L298.5,483.4 L300.6,503.1 L302.7,487.8 L304.8,497.4 L306.9,518.3 L309.0,476.4 L311.1,498.0 L313.2,476.4 L315.3,513.7 L317.4,476.2 L319.5,487.9 L321.6,477.0 L323.7,475.6 L325.8,479.4 L327.9,496.4 L330.0,490.5 L332.1,515.2 L334.2,502.0 L336.3,507.5 L338.4,531.7 L340.5,511.1 L342.6,511.5 L344.6,529.7 L346.7,512.0 L348.8,535.3 L350.9,522.1 L353.0,540.0 L355.1,513.5 L357.2,526.7 L359.3,516.3 L361.4,532.4 L363.5,532.6 L365.6,512.9 L367.7,525.5 L369.8,535.7 L371.9,523.2 L374.0,529.5 L376.1,521.2 L378.2,513.1 L380.3,531.9 L382.4,531.8 L384.5,528.5 L386.6,510.1 L388.7,552.0 L390.8,528.2 L392.9,530.9 L395.0,517.2 L397.1,530.5 L399.2,509.6 L401.3,535.2 L403.4,515.4 L405.5,538.8 L407.6,536.8 L409.7,530.2 L411.8,513.6 L413.9,534.8 L416.0,553.0 L418.1,535.8 L420.2,515.7 L422.3,542.1 L424.4,518.5 L426.5,515.0 L428.6,538.2 L430.7,539.0 L432.8,529.2 L434.9,503.4 L437.0,516.0 L439.1,488.8 L441.2,501.1 L443.3,487.1 L445.4,501.4 L447.5,490.3 L449.6,510.1 L451.7,485.2 L453.8,502.4 L455.9,482.2 L458.0,510.9 L460.0,489.1 L462.1,499.2 L464.2,480.0 L466.3,505.7 L468.4,490.9 L470.5,505.0 L472.6,500.7 L474.7,500.5 L476.8,513.3 L478.9,507.8 L481.0,517.5 L483.1,518.2 L485.2,503.1 L487.3,529.0 L489.4,506.1 L491.5,518.4 L493.6,505.8 L495.7,524.3 L497.8,499.7 L499.9,519.8 L502.0,504.3 L504.1,522.1 L506.2,504.6 L508.3,512.6 L510.4,498.3 L512.5,522.4 L514.6,504.5 L516.7,522.6 L518.8,504.2 L520.9,509.6 L523.0,503.3 L525.1,491.6 L527.2,500.2 L529.3,476.6 L531.4,494.0 L533.5,482.9 L535.6,505.4 L537.7,505.6 L539.8,491.4 L541.9,501.1 L544.0,487.2 L546.1,503.9 L548.2,501.5 L550.3,509.2 L552.4,484.6 L554.5,500.8 L556.6,487.8 L558.7,506.4 L560.8,483.8 L562.9,504.4 L565.0,497.4 L567.1,498.4 L569.2,479.6 L571.3,502.5 L573.3,483.3 L575.4,503.3 L577.5,487.5 L579.6,546.0 L581.7,513.2 L583.8,521.1 L585.9,515.6 L588.0,512.3 L590.1,531.5 L592.2,517.3 L594.3,546.0 L596.4,508.8 L598.5,524.8 L600.6,507.7 L602.7,521.6 L604.8,504.7 L606.9,509.6 L609.0,510.6 L611.1,512.8 L613.2,523.5 L615.3,519.8 L617.4,561.0 L619.5,518.3 L621.6,524.2 L623.7,529.9 L625.8,521.3 L627.9,489.5 L630.0,518.8" fill="none" stroke="#98BB55" stroke-width="2.0" stroke-dasharray="1.9 2.6"/>
<path d="M57.2,365.3 L59.3,380.3 L61.4,367.0 L63.5,362.4 L65.6,380.2 L67.7,373.9 L69.8,366.4 L71.9,380.3 L74.0,364.0 L76.1,380.4 L78.2,376.9 L80.3,365.3 L82.4,386.7 L84.5,378.8 L86.6,364.3 L88.7,380.8 L90.8,364.3 L92.9,381.0 L95.0,367.6 L97.1,374.8 L99.2,361.8 L101.3,386.0 L103.4,366.2 L105.5,373.2 L107.6,360.1 L109.7,371.0 L111.8,359.4 L113.9,372.1 L115.9,366.6 L118.0,358.5 L120.1,371.5 L122.2,359.6 L124.3,366.6 L126.4,353.6 L128.5,368.2 L130.6,357.1 L132.7,368.6 L134.8,356.1 L136.9,366.0 L139.0,352.4 L141.1,359.9 L143.2,351.1 L145.3,360.4 L147.4,345.9 L149.5,358.8 L151.6,342.8 L153.7,347.5 L155.8,359.8 L157.9,344.2 L160.0,358.0 L162.1,362.0 L164.2,351.1 L166.3,363.6 L168.4,349.0 L170.5,365.5 L172.6,363.7 L174.7,353.1 L176.8,365.7 L178.9,367.7 L181.0,356.5 L183.1,367.6 L185.2,366.3 L187.3,347.0 L189.4,368.4 L191.5,353.3 L193.6,367.3 L195.7,351.4 L197.8,366.0 L199.9,350.0 L202.0,351.1 L204.1,362.6 L206.2,362.6 L208.3,350.5 L210.4,353.4 L212.5,366.4 L214.6,355.5 L216.7,368.9 L218.8,361.6 L220.9,389.0 L223.0,363.9 L225.1,382.2 L227.2,365.6 L229.2,376.9 L231.3,369.8 L233.4,356.1 L235.5,368.8 L237.6,350.7 L239.7,348.2 L241.8,358.8 L243.9,360.9 L246.0,350.0 L248.1,363.6 L250.2,383.0 L252.3,365.7 L254.4,345.0 L256.5,361.3 L258.6,362.0 L260.7,346.7 L262.8,364.0 L264.9,349.4 L267.0,349.0 L269.1,364.0 L271.2,376.0 L273.3,361.1 L275.4,363.5 L277.5,348.6 L279.6,362.5 L281.7,353.3 L283.8,360.7 L285.9,360.1 L288.0,350.7 L290.1,361.6 L292.2,350.2 L294.3,367.4 L296.4,351.9 L298.5,354.6 L300.6,368.2 L302.7,359.2 L304.8,371.5 L306.9,359.3 L309.0,357.7 L311.1,369.8 L313.2,362.5 L315.3,373.8 L317.4,362.7 L319.5,376.0 L321.6,361.0 L323.7,359.4 L325.8,372.1 L327.9,360.0 L330.0,373.6 L332.1,368.9 L334.2,354.6 L336.3,370.5 L338.4,358.6 L340.5,369.2 L342.6,376.0 L344.6,373.8 L346.7,362.8 L348.8,361.9 L350.9,372.2 L353.0,361.8 L355.1,372.8 L357.2,421.3 L359.3,375.1 L361.4,360.9 L363.5,372.7 L365.6,355.9 L367.7,370.4 L369.8,356.0 L371.9,370.4 L374.0,361.2 L376.1,371.2 L378.2,357.1 L380.3,371.9 L382.4,359.6 L384.5,356.6 L386.6,372.4 L388.7,359.7 L390.8,369.8 L392.9,369.7 L395.0,354.2 L397.1,367.8 L399.2,368.8 L401.3,355.8 L403.4,372.2 L405.5,357.2 L407.6,369.6 L409.7,354.6 L411.8,363.6 L413.9,353.3 L416.0,376.0 L418.1,353.5 L420.2,365.3 L422.3,357.9 L424.4,356.0 L426.5,366.4 L428.6,352.0 L430.7,365.4 L432.8,354.5 L434.9,370.9 L437.0,357.0 L439.1,364.7 L441.2,355.9 L443.3,365.0 L445.4,357.0 L447.5,382.0 L449.6,356.1 L451.7,367.6 L453.8,352.1 L455.9,366.6 L458.0,350.8 L460.0,363.4 L462.1,352.6 L464.2,362.8 L466.3,353.5 L468.4,365.2 L470.5,366.0 L472.6,346.0 L474.7,350.9 L476.8,368.1 L478.9,367.8 L481.0,357.0 L483.1,352.8 L485.2,369.3 L487.3,353.4 L489.4,369.0 L491.5,360.6 L493.6,370.6 L495.7,357.0 L497.8,368.2 L499.9,396.0 L502.0,364.9 L504.1,368.0 L506.2,368.1 L508.3,368.4 L510.4,357.1 L512.5,356.7 L514.6,370.1 L516.7,359.0 L518.8,374.7 L520.9,369.7 L523.0,355.9 L525.1,369.6 L527.2,357.2 L529.3,368.0 L531.4,355.8 L533.5,372.2 L535.6,357.1 L537.7,375.0 L539.8,359.9 L541.9,371.9 L544.0,359.4 L546.1,361.8 L548.2,356.0 L550.3,372.5 L552.4,357.0 L554.5,368.3 L556.6,357.0 L558.7,357.7 L560.8,370.8 L562.9,358.5 L565.0,368.8 L567.1,348.0 L569.2,366.0 L571.3,353.4 L573.3,354.3 L575.4,366.1 L577.5,349.5 L579.6,364.6 L581.7,365.6 L583.8,348.0 L585.9,363.3 L588.0,353.8 L590.1,365.4 L592.2,369.6 L594.3,378.6 L596.4,355.8 L598.5,366.6 L600.6,364.8 L602.7,358.8 L604.8,356.6 L606.9,366.2 L609.0,351.0 L611.1,367.7 L613.2,371.7 L615.3,361.7 L617.4,372.4 L619.5,371.2 L621.6,357.3 L623.7,375.6 L625.8,356.8 L627.9,374.8 L630.0,397.0" fill="none" stroke="#7D60A0" stroke-width="2.3" stroke-linejoin="round" stroke-linecap="round"/>
<line x1="646" y1="438.6" x2="671.5" y2="438.6" stroke="#4A7EBB" stroke-width="1.6"/>
<text x="676" y="442.6" font-family="Liberation Sans, sans-serif" font-weight="bold" font-size="11" textLength="119.4" lengthAdjust="spacingAndGlyphs" fill="#111" stroke="#111" stroke-width="0.25">Genes (16.79 genes/Mb)</text>
<line x1="647" y1="456.4" x2="671.5" y2="456.4" stroke="#BC3C3C" stroke-width="1.3" stroke-linecap="round" stroke-dasharray="0.1 2.7" stroke-opacity="0.85"/>
<text x="676" y="460.4" font-family="Liberation Sans, sans-serif" font-weight="bold" font-size="11" textLength="111.3" lengthAdjust="spacingAndGlyphs" fill="#111" stroke="#111" stroke-width="0.25">SSRs (326.97 SSRs/Mb)</text>
<line x1="647" y1="475.4" x2="671.5" y2="475.4" stroke="#98BB55" stroke-width="1.3" stroke-linecap="round" stroke-dasharray="0.1 2.7" stroke-opacity="0.85"/>
<text x="676" y="479.4" font-family="Liberation Sans, sans-serif" font-weight="bold" font-size="11" textLength="92.1" lengthAdjust="spacingAndGlyphs" fill="#111" stroke="#111" stroke-width="0.25">TEs (21.78 TEs/Mb)</text>
<line x1="646" y1="491.6" x2="671.5" y2="491.6" stroke="#7D60A0" stroke-width="1.6"/>
<text x="676" y="495.6" font-family="Liberation Sans, sans-serif" font-weight="bold" font-size="11" textLength="114.5" lengthAdjust="spacingAndGlyphs" fill="#111" stroke="#111" stroke-width="0.25">SNPs (1808.5 SNPs/Mb)</text>
<line x1="53.2" y1="662.50" x2="630.5" y2="662.50" stroke="#999999" stroke-width="1.1"/>
<text x="47.8" y="665.70" text-anchor="end" font-family="Liberation Sans, sans-serif" font-size="9" fill="#222">10000</text>
<line x1="53.2" y1="721.20" x2="630.5" y2="721.20" stroke="#999999" stroke-width="1.1"/>
<text x="47.8" y="724.40" text-anchor="end" font-family="Liberation Sans, sans-serif" font-size="9" fill="#222">1000</text>
<line x1="53.2" y1="779.90" x2="630.5" y2="779.90" stroke="#999999" stroke-width="1.1"/>
<text x="47.8" y="783.10" text-anchor="end" font-family="Liberation Sans, sans-serif" font-size="9" fill="#222">100</text>
<line x1="53.2" y1="838.60" x2="630.5" y2="838.60" stroke="#999999" stroke-width="1.1"/>
<text x="47.8" y="841.80" text-anchor="end" font-family="Liberation Sans, sans-serif" font-size="9" fill="#222">10</text>
<line x1="53.2" y1="897.30" x2="630.5" y2="897.30" stroke="#999999" stroke-width="1.1"/>
<text x="47.8" y="900.50" text-anchor="end" font-family="Liberation Sans, sans-serif" font-size="9" fill="#222">1</text>
<line x1="56.7" y1="662.00" x2="56.7" y2="897.30" stroke="#999999" stroke-width="1.1"/>
<line x1="56.7" y1="899.30" x2="630.5" y2="899.30" stroke="#999" stroke-width="3.6" stroke-dasharray="1 1.1"/>
<line x1="57.6" y1="898.80" x2="57.6" y2="928.30" stroke="#6f6f6f" stroke-width="2.3" stroke-dasharray="6 2.4"/>
<line x1="223.7" y1="898.80" x2="223.7" y2="928.30" stroke="#6f6f6f" stroke-width="2.3" stroke-dasharray="6 2.4"/>
<line x1="367" y1="898.80" x2="367" y2="928.30" stroke="#6f6f6f" stroke-width="2.3" stroke-dasharray="6 2.4"/>
<line x1="500.1" y1="898.80" x2="500.1" y2="928.30" stroke="#6f6f6f" stroke-width="2.3" stroke-dasharray="6 2.4"/>
<line x1="630.6" y1="898.80" x2="630.6" y2="928.30" stroke="#6f6f6f" stroke-width="2.3" stroke-dasharray="6 2.4"/>
<text x="123.1" y="916.1" font-family="Liberation Serif, serif" font-weight="bold" font-size="14" textLength="34.3" lengthAdjust="spacingAndGlyphs" fill="#000">Chr 9</text>
<text x="273.6" y="916.1" font-family="Liberation Serif, serif" font-weight="bold" font-size="14" textLength="42.0" lengthAdjust="spacingAndGlyphs" fill="#000">Chr 10</text>
<text x="413" y="916.1" font-family="Liberation Serif, serif" font-weight="bold" font-size="14" textLength="40.6" lengthAdjust="spacingAndGlyphs" fill="#000">Chr 11</text>
<text x="548" y="916.1" font-family="Liberation Serif, serif" font-weight="bold" font-size="14" textLength="42.5" lengthAdjust="spacingAndGlyphs" fill="#000">Chr 12</text>
<text x="2.3" y="672" font-family="Liberation Sans, sans-serif" font-weight="bold" font-size="16.5" fill="#000">C</text>
<text transform="translate(1.8,784) rotate(90)" text-anchor="middle" font-family="Liberation Serif, serif" font-weight="bold" font-size="16" textLength="91.5" lengthAdjust="spacingAndGlyphs" fill="#000">SNPs number</text>
<path d="M57.2,822.4 L59.4,829.7 L61.6,832.3 L63.8,837.7 L66.0,836.0 L68.2,828.9 L70.4,830.1 L72.6,824.2 L74.8,838.4 L77.0,830.5 L79.2,838.4 L81.4,843.8 L83.6,831.3 L85.8,847.8 L88.0,853.9 L90.2,852.8 L92.4,850.5 L94.7,839.8 L96.9,853.4 L99.1,869.0 L101.3,859.6 L103.5,862.4 L105.7,879.4 L107.9,863.8 L110.1,867.3 L112.3,879.4 L114.5,873.4 L116.7,872.5 L118.9,860.4 L121.1,879.4 L123.3,873.1 L125.5,864.3 L127.7,878.3 L129.9,859.4 L132.1,877.4 L134.3,865.6 L136.5,886.4 L138.7,867.1 L140.9,857.2 L143.1,879.4 L145.3,844.3 L147.5,837.2 L149.7,837.8 L151.9,832.5 L154.1,829.0 L156.3,844.6 L158.5,840.9 L160.7,838.8 L162.9,847.5 L165.2,836.1 L167.4,831.3 L169.6,823.6 L171.8,833.9 L174.0,817.5 L176.2,828.6 L178.4,828.6 L180.6,822.5 L182.8,826.4 L185.0,813.8 L187.2,807.0 L189.4,818.3 L191.6,831.9 L193.8,820.0 L196.0,833.7 L198.2,828.0 L200.4,824.3 L202.6,810.4 L204.8,819.8 L207.0,808.9 L209.2,808.5 L211.4,817.0 L213.6,814.2 L215.8,869.0 L218.0,832.7 L220.2,827.6 L222.4,822.2 L224.6,815.3 L226.8,833.3 L229.0,879.4 L231.2,833.3 L233.4,840.3 L235.6,833.1 L237.9,840.6 L240.1,862.5 L242.3,839.0 L244.5,839.7 L246.7,837.6 L248.9,827.9 L251.1,844.1 L253.3,845.7 L255.5,843.1 L257.7,842.2 L259.9,831.0 L262.1,841.4 L264.3,828.9 L266.5,830.7 L268.7,840.1 L270.9,835.5 L273.1,841.2 L275.3,843.0 L277.5,841.5 L279.7,833.7 L281.9,838.7 L284.1,832.6 L286.3,837.4 L288.5,822.6 L290.7,840.7 L292.9,833.6 L295.1,819.0 L297.3,829.2 L299.5,829.9 L301.7,817.2 L303.9,824.0 L306.1,817.6 L308.4,829.7 L310.6,835.6 L312.8,821.7 L315.0,828.6 L317.2,803.4 L319.4,812.8 L321.6,820.1 L323.8,805.7 L326.0,816.3 L328.2,810.4 L330.4,824.1 L332.6,808.3 L334.8,821.7 L337.0,813.8 L339.2,819.8 L341.4,811.1 L343.6,818.3 L345.8,818.1 L348.0,823.0 L350.2,838.2 L352.4,811.9 L354.6,821.6 L356.8,826.2 L359.0,821.0 L361.2,823.9 L363.4,815.5 L365.6,831.2 L367.8,879.4 L370.0,830.5 L372.2,847.8 L374.4,844.3 L376.6,849.0 L378.8,838.0 L381.1,829.7 L383.3,849.4 L385.5,896.0 L387.7,836.3 L389.9,844.5 L392.1,836.9 L394.3,833.3 L396.5,844.4 L398.7,833.6 L400.9,845.5 L403.1,838.5 L405.3,844.9 L407.5,845.5 L409.7,840.0 L411.9,848.9 L414.1,843.3 L416.3,861.6 L418.5,847.0 L420.7,847.2 L422.9,854.8 L425.1,851.0 L427.3,861.6 L429.5,836.0 L431.7,832.7 L433.9,828.9 L436.1,815.3 L438.3,822.9 L440.5,826.8 L442.7,819.7 L444.9,819.1 L447.1,810.6 L449.3,824.6 L451.6,818.2 L453.8,825.8 L456.0,817.8 L458.2,816.5 L460.4,825.6 L462.6,808.8 L464.8,824.3 L467.0,822.7 L469.2,814.3 L471.4,819.9 L473.6,810.0 L475.8,818.9 L478.0,812.0 L480.2,822.4 L482.4,822.9 L484.6,822.2 L486.8,811.5 L489.0,803.4 L491.2,802.2 L493.4,806.0 L495.6,818.7 L497.8,809.7 L500.0,832.4 L502.2,879.4 L504.4,879.4 L506.6,834.4 L508.8,861.6 L511.0,841.1 L513.2,839.6 L515.4,847.1 L517.6,839.9 L519.8,839.5 L522.0,850.6 L524.3,837.8 L526.5,840.6 L528.7,848.7 L530.9,853.1 L533.1,841.8 L535.3,851.0 L537.5,846.7 L539.7,851.0 L541.9,843.5 L544.1,843.4 L546.3,849.6 L548.5,839.0 L550.7,836.6 L552.9,825.5 L555.1,819.3 L557.3,829.2 L559.5,822.0 L561.7,805.0 L563.9,822.2 L566.1,831.5 L568.3,823.4 L570.5,809.9 L572.7,821.2 L574.9,805.1 L577.1,810.8 L579.3,823.1 L581.5,812.8 L583.7,821.8 L585.9,810.9 L588.1,808.6 L590.3,810.3 L592.5,817.0 L594.8,814.3 L597.0,820.1 L599.2,811.8 L601.4,815.1 L603.6,818.9 L605.8,803.4 L608.0,811.4 L610.2,815.7 L612.4,814.5 L614.6,824.4 L616.8,814.0 L619.0,819.1 L621.2,813.1 L623.4,808.9 L625.6,815.6 L627.8,805.5 L630.0,844.7" fill="none" stroke="#4A7EBB" stroke-width="2.2" stroke-linejoin="round" stroke-linecap="round"/>
<path d="M57.2,748.1 L59.4,746.3 L61.6,743.3 L63.8,754.3 L66.0,746.2 L68.2,746.8 L70.4,746.8 L72.6,747.1 L74.8,747.6 L77.0,752.1 L79.2,749.1 L81.4,748.7 L83.6,753.7 L85.8,750.5 L88.0,747.8 L90.2,748.5 L92.4,753.7 L94.7,748.5 L96.9,759.6 L99.1,755.7 L101.3,761.4 L103.5,756.4 L105.7,760.9 L107.9,763.2 L110.1,775.3 L112.3,760.9 L114.5,760.0 L116.7,758.1 L118.9,761.8 L121.1,772.0 L123.3,767.7 L125.5,758.4 L127.7,754.0 L129.9,760.8 L132.1,750.4 L134.3,750.0 L136.5,753.0 L138.7,753.0 L140.9,765.0 L143.1,751.5 L145.3,747.4 L147.5,745.0 L149.7,749.4 L151.9,748.7 L154.1,745.8 L156.3,745.0 L158.5,741.4 L160.7,741.5 L162.9,742.7 L165.2,749.3 L167.4,740.1 L169.6,742.8 L171.8,754.1 L174.0,745.9 L176.2,750.3 L178.4,746.2 L180.6,747.1 L182.8,746.8 L185.0,746.4 L187.2,753.2 L189.4,744.0 L191.6,751.9 L193.8,744.6 L196.0,746.0 L198.2,743.7 L200.4,743.7 L202.6,750.3 L204.8,746.3 L207.0,745.7 L209.2,753.1 L211.4,752.6 L213.6,748.5 L215.8,764.0 L218.0,752.0 L220.2,749.0 L222.4,748.6 L224.6,747.1 L226.8,747.1 L229.0,751.6 L231.2,747.7 L233.4,747.7 L235.6,754.5 L237.9,751.7 L240.1,758.6 L242.3,758.6 L244.5,751.8 L246.7,762.7 L248.9,752.7 L251.1,752.7 L253.3,749.2 L255.5,753.0 L257.7,749.1 L259.9,758.0 L262.1,758.1 L264.3,746.8 L266.5,746.4 L268.7,751.3 L270.9,744.0 L273.1,748.7 L275.3,749.5 L277.5,750.4 L279.7,740.3 L281.9,747.0 L284.1,741.7 L286.3,743.2 L288.5,752.2 L290.7,741.5 L292.9,741.5 L295.1,741.5 L297.3,738.1 L299.5,748.1 L301.7,742.9 L303.9,746.7 L306.1,740.6 L308.4,737.5 L310.6,737.7 L312.8,745.7 L315.0,747.9 L317.2,743.4 L319.4,747.2 L321.6,750.9 L323.8,743.1 L326.0,750.4 L328.2,741.6 L330.4,748.6 L332.6,747.1 L334.8,749.3 L337.0,743.2 L339.2,741.2 L341.4,746.6 L343.6,740.7 L345.8,750.4 L348.0,751.6 L350.2,748.1 L352.4,741.8 L354.6,747.4 L356.8,738.9 L359.0,736.4 L361.2,743.5 L363.4,739.6 L365.6,745.3 L367.8,741.7 L370.0,743.5 L372.2,750.6 L374.4,746.8 L376.6,745.1 L378.8,750.2 L381.1,757.7 L383.3,762.1 L385.5,770.6 L387.7,760.1 L389.9,758.3 L392.1,759.1 L394.3,758.8 L396.5,752.4 L398.7,758.2 L400.9,752.6 L403.1,758.3 L405.3,754.0 L407.5,756.2 L409.7,758.9 L411.9,753.7 L414.1,753.8 L416.3,771.6 L418.5,755.5 L420.7,756.3 L422.9,761.1 L425.1,752.5 L427.3,751.3 L429.5,751.0 L431.7,750.0 L433.9,756.6 L436.1,746.5 L438.3,745.6 L440.5,743.3 L442.7,739.1 L444.9,739.7 L447.1,755.6 L449.3,742.5 L451.6,738.2 L453.8,748.6 L456.0,744.6 L458.2,751.0 L460.4,742.8 L462.6,753.4 L464.8,742.5 L467.0,743.3 L469.2,750.3 L471.4,740.4 L473.6,750.9 L475.8,742.1 L478.0,743.4 L480.2,751.7 L482.4,742.3 L484.6,742.2 L486.8,751.1 L489.0,743.8 L491.2,745.0 L493.4,748.4 L495.6,741.9 L497.8,752.6 L500.0,793.0 L502.2,783.0 L504.4,751.4 L506.6,745.4 L508.8,744.2 L511.0,750.7 L513.2,748.3 L515.4,756.7 L517.6,746.5 L519.8,749.1 L522.0,745.1 L524.3,756.4 L526.5,751.3 L528.7,746.4 L530.9,751.6 L533.1,751.5 L535.3,745.7 L537.5,747.4 L539.7,752.2 L541.9,746.2 L544.1,748.1 L546.3,755.9 L548.5,749.7 L550.7,752.6 L552.9,750.9 L555.1,744.0 L557.3,744.0 L559.5,748.8 L561.7,748.0 L563.9,744.6 L566.1,745.8 L568.3,746.2 L570.5,746.0 L572.7,741.2 L574.9,746.8 L577.1,745.6 L579.3,739.9 L581.5,739.7 L583.7,752.5 L585.9,745.4 L588.1,744.4 L590.3,755.5 L592.5,750.3 L594.8,743.8 L597.0,743.8 L599.2,743.4 L601.4,745.9 L603.6,741.7 L605.8,745.8 L608.0,742.9 L610.2,745.2 L612.4,741.3 L614.6,741.8 L616.8,746.7 L619.0,749.4 L621.2,740.4 L623.4,746.7 L625.6,738.1 L627.8,746.1 L630.0,757.5" fill="none" stroke="#BC3C3C" stroke-width="2.0" stroke-dasharray="1.9 2.6"/>
<path d="M57.2,805.8 L59.4,818.6 L61.6,806.0 L63.8,817.7 L66.0,811.6 L68.2,818.9 L70.4,805.7 L72.6,804.5 L74.8,808.4 L77.0,820.2 L79.2,799.7 L81.4,817.1 L83.6,813.6 L85.8,820.7 L88.0,808.4 L90.2,806.7 L92.4,799.7 L94.7,807.6 L96.9,820.6 L99.1,815.5 L101.3,808.2 L103.5,816.3 L105.7,807.5 L107.9,822.0 L110.1,809.9 L112.3,811.0 L114.5,809.1 L116.7,804.5 L118.9,822.1 L121.1,811.7 L123.3,820.2 L125.5,809.6 L127.7,822.2 L129.9,812.6 L132.1,804.5 L134.3,818.7 L136.5,811.0 L138.7,821.2 L140.9,811.7 L143.1,818.7 L145.3,809.4 L147.5,823.3 L149.7,815.4 L151.9,832.1 L154.1,816.7 L156.3,822.1 L158.5,823.9 L160.7,815.3 L162.9,813.5 L165.2,834.9 L167.4,830.0 L169.6,846.9 L171.8,830.7 L174.0,848.2 L176.2,836.5 L178.4,858.8 L180.6,830.7 L182.8,831.7 L185.0,842.7 L187.2,843.8 L189.4,842.3 L191.6,839.8 L193.8,855.0 L196.0,839.3 L198.2,832.2 L200.4,838.7 L202.6,843.8 L204.8,834.3 L207.0,841.2 L209.2,818.7 L211.4,823.2 L213.6,809.3 L215.8,824.5 L218.0,824.7 L220.2,805.2 L222.4,842.0 L224.6,805.8 L226.8,801.0 L229.0,822.6 L231.2,814.1 L233.4,825.6 L235.6,825.5 L237.9,824.7 L240.1,813.7 L242.3,824.0 L244.5,819.7 L246.7,819.1 L248.9,823.4 L251.1,807.8 L253.3,822.8 L255.5,808.4 L257.7,824.8 L259.9,806.0 L262.1,825.2 L264.3,809.5 L266.5,820.8 L268.7,807.9 L270.9,802.4 L273.1,811.7 L275.3,804.4 L277.5,805.7 L279.7,819.6 L281.9,808.5 L284.1,813.9 L286.3,799.0 L288.5,814.2 L290.7,819.7 L292.9,814.8 L295.1,832.1 L297.3,840.8 L299.5,851.8 L301.7,841.6 L303.9,842.6 L306.1,896.0 L308.4,844.8 L310.6,845.9 L312.8,833.2 L315.0,853.1 L317.2,840.6 L319.4,849.0 L321.6,851.6 L323.8,867.0 L326.0,830.7 L328.2,879.4 L330.4,841.7 L332.6,829.6 L334.8,843.7 L337.0,869.0 L339.2,840.5 L341.4,849.2 L343.6,838.4 L345.8,838.2 L348.0,843.3 L350.2,845.1 L352.4,834.0 L354.6,849.5 L356.8,837.3 L359.0,850.0 L361.2,855.4 L363.4,825.0 L365.6,849.0 L367.8,807.6 L370.0,819.8 L372.2,806.7 L374.4,812.5 L376.6,820.6 L378.8,806.2 L381.1,819.1 L383.3,808.6 L385.5,809.4 L387.7,823.2 L389.9,805.8 L392.1,823.7 L394.3,811.5 L396.5,823.7 L398.7,809.4 L400.9,818.2 L403.1,820.6 L405.3,814.8 L407.5,830.1 L409.7,822.9 L411.9,825.2 L414.1,810.6 L416.3,818.9 L418.5,812.2 L420.7,799.7 L422.9,806.7 L425.1,824.9 L427.3,806.3 L429.5,821.7 L431.7,811.5 L433.9,830.3 L436.1,836.4 L438.3,833.2 L440.5,853.9 L442.7,839.7 L444.9,853.6 L447.1,831.7 L449.3,847.0 L451.6,844.9 L453.8,839.8 L456.0,842.8 L458.2,840.6 L460.4,849.6 L462.6,834.2 L464.8,826.6 L467.0,843.7 L469.2,834.5 L471.4,840.0 L473.6,859.7 L475.8,842.6 L478.0,837.3 L480.2,838.4 L482.4,846.7 L484.6,826.2 L486.8,839.7 L489.0,855.9 L491.2,830.2 L493.4,846.5 L495.6,833.0 L497.8,837.4 L500.0,820.2 L502.2,879.4 L504.4,794.0 L506.6,816.7 L508.8,818.0 L511.0,797.7 L513.2,803.6 L515.4,802.3 L517.6,801.0 L519.8,809.2 L522.0,798.1 L524.3,796.8 L526.5,805.5 L528.7,799.7 L530.9,824.7 L533.1,804.3 L535.3,812.5 L537.5,797.2 L539.7,811.1 L541.9,804.9 L544.1,833.8 L546.3,823.6 L548.5,832.7 L550.7,828.6 L552.9,819.5 L555.1,836.0 L557.3,821.0 L559.5,834.1 L561.7,847.5 L563.9,831.1 L566.1,825.6 L568.3,818.6 L570.5,834.7 L572.7,828.0 L574.9,846.6 L577.1,819.6 L579.3,836.7 L581.5,823.7 L583.7,840.0 L585.9,836.3 L588.1,828.8 L590.3,836.1 L592.5,822.2 L594.8,832.6 L597.0,847.9 L599.2,823.6 L601.4,847.0 L603.6,846.7 L605.8,875.7 L608.0,878.4 L610.2,861.7 L612.4,851.9 L614.6,862.4 L616.8,849.8 L619.0,858.7 L621.2,854.0 L623.4,849.7 L625.6,836.1 L627.8,849.5 L630.0,825.9" fill="none" stroke="#98BB55" stroke-width="2.0" stroke-dasharray="1.9 2.6"/>
<path d="M57.2,706.9 L59.4,710.0 L61.6,703.0 L63.8,710.1 L66.0,705.0 L68.2,705.4 L70.4,710.9 L72.6,706.2 L74.8,712.1 L77.0,709.0 L79.2,703.4 L81.4,709.8 L83.6,709.0 L85.8,704.7 L88.0,711.7 L90.2,705.8 L92.4,713.7 L94.7,708.3 L96.9,727.5 L99.1,716.2 L101.3,714.3 L103.5,722.2 L105.7,733.0 L107.9,726.6 L110.1,718.5 L112.3,725.3 L114.5,726.5 L116.7,716.0 L118.9,720.5 L121.1,714.3 L123.3,711.2 L125.5,710.6 L127.7,707.7 L129.9,712.0 L132.1,707.7 L134.3,702.4 L136.5,703.8 L138.7,701.4 L140.9,707.3 L143.1,701.8 L145.3,701.0 L147.5,705.0 L149.7,718.0 L151.9,712.2 L154.1,704.9 L156.3,707.8 L158.5,702.0 L160.7,709.2 L162.9,704.4 L165.2,702.0 L167.4,701.7 L169.6,694.7 L171.8,702.1 L174.0,706.8 L176.2,700.7 L178.4,708.6 L180.6,701.4 L182.8,706.9 L185.0,705.6 L187.2,715.7 L189.4,710.7 L191.6,709.0 L193.8,715.0 L196.0,706.4 L198.2,712.0 L200.4,711.3 L202.6,709.6 L204.8,703.2 L207.0,709.2 L209.2,713.5 L211.4,711.7 L213.6,716.6 L215.8,729.4 L218.0,714.6 L220.2,708.2 L222.4,709.0 L224.6,698.5 L226.8,694.7 L229.0,721.0 L231.2,701.6 L233.4,702.5 L235.6,699.6 L237.9,706.9 L240.1,696.3 L242.3,702.2 L244.5,705.4 L246.7,699.3 L248.9,701.3 L251.1,705.1 L253.3,701.3 L255.5,707.5 L257.7,705.4 L259.9,697.4 L262.1,706.0 L264.3,696.2 L266.5,698.0 L268.7,698.4 L270.9,692.8 L273.1,694.9 L275.3,697.4 L277.5,692.9 L279.7,700.2 L281.9,694.8 L284.1,697.6 L286.3,712.0 L288.5,697.5 L290.7,706.4 L292.9,699.8 L295.1,704.9 L297.3,701.3 L299.5,709.2 L301.7,703.8 L303.9,706.8 L306.1,704.5 L308.4,703.6 L310.6,707.2 L312.8,703.6 L315.0,704.0 L317.2,711.4 L319.4,709.0 L321.6,704.0 L323.8,711.1 L326.0,710.8 L328.2,702.2 L330.4,710.4 L332.6,705.6 L334.8,713.9 L337.0,713.3 L339.2,715.8 L341.4,705.9 L343.6,704.5 L345.8,708.2 L348.0,716.7 L350.2,723.7 L352.4,714.2 L354.6,716.5 L356.8,724.5 L359.0,716.7 L361.2,723.8 L363.4,719.6 L365.6,717.7 L367.8,724.7 L370.0,709.6 L372.2,710.5 L374.4,710.7 L376.6,713.1 L378.8,714.5 L381.1,705.5 L383.3,710.9 L385.5,714.3 L387.7,711.9 L389.9,712.0 L392.1,709.1 L394.3,708.9 L396.5,703.1 L398.7,707.4 L400.9,703.5 L403.1,713.1 L405.3,702.6 L407.5,707.1 L409.7,702.3 L411.9,706.5 L414.1,708.0 L416.3,720.0 L418.5,702.9 L420.7,708.4 L422.9,708.4 L425.1,720.0 L427.3,709.8 L429.5,702.9 L431.7,709.8 L433.9,709.2 L436.1,713.3 L438.3,713.2 L440.5,712.8 L442.7,704.0 L444.9,708.1 L447.1,701.2 L449.3,703.2 L451.6,710.6 L453.8,695.6 L456.0,702.4 L458.2,708.9 L460.4,701.5 L462.6,700.2 L464.8,705.7 L467.0,697.8 L469.2,705.4 L471.4,698.8 L473.6,704.9 L475.8,698.8 L478.0,699.8 L480.2,704.8 L482.4,704.1 L484.6,702.7 L486.8,710.7 L489.0,712.4 L491.2,721.0 L493.4,716.9 L495.6,719.7 L497.8,717.0 L500.0,775.3 L502.2,697.0 L504.4,696.4 L506.6,705.4 L508.8,698.7 L511.0,702.1 L513.2,690.0 L515.4,702.7 L517.6,698.9 L519.8,709.7 L522.0,695.2 L524.3,703.5 L526.5,705.6 L528.7,705.5 L530.9,711.6 L533.1,696.9 L535.3,703.4 L537.5,695.7 L539.7,702.5 L541.9,697.1 L544.1,698.0 L546.3,695.1 L548.5,704.5 L550.7,701.5 L552.9,699.5 L555.1,699.4 L557.3,700.3 L559.5,701.9 L561.7,700.1 L563.9,702.8 L566.1,707.3 L568.3,704.6 L570.5,700.3 L572.7,701.7 L574.9,708.4 L577.1,697.9 L579.3,700.1 L581.5,707.6 L583.7,702.7 L585.9,702.8 L588.1,710.7 L590.3,708.2 L592.5,702.0 L594.8,701.5 L597.0,706.0 L599.2,700.6 L601.4,694.9 L603.6,696.3 L605.8,705.3 L608.0,699.0 L610.2,704.7 L612.4,703.6 L614.6,700.7 L616.8,700.6 L619.0,704.7 L621.2,708.0 L623.4,698.5 L625.6,706.0 L627.8,698.5 L630.0,702.5" fill="none" stroke="#7D60A0" stroke-width="2.2" stroke-linejoin="round" stroke-linecap="round"/>
<line x1="646" y1="765.6" x2="671.5" y2="765.6" stroke="#4A7EBB" stroke-width="1.6"/>
<text x="676" y="769.6" font-family="Liberation Sans, sans-serif" font-weight="bold" font-size="11" textLength="119.4" lengthAdjust="spacingAndGlyphs" fill="#111" stroke="#111" stroke-width="0.25">Genes (17.18 genes/Mb)</text>
<line x1="647" y1="783" x2="671.5" y2="783" stroke="#BC3C3C" stroke-width="1.3" stroke-linecap="round" stroke-dasharray="0.1 2.7" stroke-opacity="0.85"/>
<text x="676" y="787.0" font-family="Liberation Sans, sans-serif" font-weight="bold" font-size="11" textLength="111.3" lengthAdjust="spacingAndGlyphs" fill="#111" stroke="#111" stroke-width="0.25">SSRs (331.07 SSRs/Mb)</text>
<line x1="647" y1="802" x2="671.5" y2="802" stroke="#98BB55" stroke-width="1.3" stroke-linecap="round" stroke-dasharray="0.1 2.7" stroke-opacity="0.85"/>
<text x="676" y="806.0" font-family="Liberation Sans, sans-serif" font-weight="bold" font-size="11" textLength="92.1" lengthAdjust="spacingAndGlyphs" fill="#111" stroke="#111" stroke-width="0.25">TEs (21.19 TEs/Mb)</text>
<line x1="646" y1="818.6" x2="671.5" y2="818.6" stroke="#7D60A0" stroke-width="1.6"/>
<text x="676" y="822.6" font-family="Liberation Sans, sans-serif" font-weight="bold" font-size="11" textLength="114.5" lengthAdjust="spacingAndGlyphs" fill="#111" stroke="#111" stroke-width="0.25">SNPs (1804.3 SNPs/Mb)</text>
<line x1="53.1" y1="977.60" x2="630" y2="977.60" stroke="#999999" stroke-width="1.1"/>
<text x="47.8" y="980.80" text-anchor="end" font-family="Liberation Sans, sans-serif" font-size="9" fill="#222">10000</text>
<line x1="53.1" y1="1048.40" x2="630" y2="1048.40" stroke="#999999" stroke-width="1.1"/>
<text x="47.8" y="1051.60" text-anchor="end" font-family="Liberation Sans, sans-serif" font-size="9" fill="#222">1000</text>
<line x1="53.1" y1="1119.20" x2="630" y2="1119.20" stroke="#999999" stroke-width="1.1"/>
<text x="47.8" y="1122.40" text-anchor="end" font-family="Liberation Sans, sans-serif" font-size="9" fill="#222">100</text>
<line x1="53.1" y1="1190.00" x2="630" y2="1190.00" stroke="#999999" stroke-width="1.1"/>
<text x="47.8" y="1193.20" text-anchor="end" font-family="Liberation Sans, sans-serif" font-size="9" fill="#222">10</text>
<line x1="53.1" y1="1260.80" x2="630" y2="1260.80" stroke="#999999" stroke-width="1.1"/>
<text x="47.8" y="1264.00" text-anchor="end" font-family="Liberation Sans, sans-serif" font-size="9" fill="#222">1</text>
<line x1="56.6" y1="977.10" x2="56.6" y2="1260.80" stroke="#999999" stroke-width="1.1"/>
<line x1="56.6" y1="1262.80" x2="630" y2="1262.80" stroke="#8a8a8a" stroke-width="3.6" stroke-dasharray="1.1 1.9"/>
<line x1="57.6" y1="1262.30" x2="57.6" y2="1291.80" stroke="#6f6f6f" stroke-width="2.3" stroke-dasharray="6 2.4"/>
<line x1="220.7" y1="1262.30" x2="220.7" y2="1291.80" stroke="#6f6f6f" stroke-width="2.3" stroke-dasharray="6 2.4"/>
<line x1="362.5" y1="1262.30" x2="362.5" y2="1291.80" stroke="#6f6f6f" stroke-width="2.3" stroke-dasharray="6 2.4"/>
<line x1="505" y1="1262.30" x2="505" y2="1291.80" stroke="#6f6f6f" stroke-width="2.3" stroke-dasharray="6 2.4"/>
<line x1="629.8" y1="1262.30" x2="629.8" y2="1291.80" stroke="#6f6f6f" stroke-width="2.3" stroke-dasharray="6 2.4"/>
<text x="123.1" y="1280.65" font-family="Liberation Serif, serif" font-weight="bold" font-size="14" textLength="41.8" lengthAdjust="spacingAndGlyphs" fill="#000">Chr 13</text>
<text x="270.6" y="1280.65" font-family="Liberation Serif, serif" font-weight="bold" font-size="14" textLength="42.0" lengthAdjust="spacingAndGlyphs" fill="#000">Chr 14</text>
<text x="412.4" y="1280.65" font-family="Liberation Serif, serif" font-weight="bold" font-size="14" textLength="41.2" lengthAdjust="spacingAndGlyphs" fill="#000">Chr 15</text>
<text x="553" y="1280.65" font-family="Liberation Serif, serif" font-weight="bold" font-size="14" textLength="42.0" lengthAdjust="spacingAndGlyphs" fill="#000">Chr 16</text>
<text x="2.3" y="986.8" font-family="Liberation Sans, sans-serif" font-weight="bold" font-size="16.5" fill="#000">D</text>
<text transform="translate(1.8,1103) rotate(90)" text-anchor="middle" font-family="Liberation Serif, serif" font-weight="bold" font-size="16" textLength="91.5" lengthAdjust="spacingAndGlyphs" fill="#000">SNPs number</text>
<path d="M57.1,1173.0 L60.1,1188.4 L63.1,1174.7 L66.1,1174.1 L69.1,1164.7 L72.1,1162.2 L75.1,1163.4 L78.1,1158.4 L81.1,1163.7 L84.1,1175.4 L87.1,1179.9 L90.1,1174.4 L93.1,1173.2 L96.1,1167.9 L99.1,1191.7 L102.1,1181.4 L105.0,1183.3 L108.0,1194.4 L111.0,1196.0 L114.0,1238.0 L117.0,1206.7 L120.0,1197.3 L123.0,1201.5 L126.0,1226.5 L129.0,1199.3 L132.0,1211.5 L135.0,1205.6 L138.0,1199.8 L141.0,1187.5 L144.0,1195.3 L147.0,1178.0 L150.0,1169.1 L153.0,1180.9 L156.0,1174.6 L159.0,1163.1 L162.0,1170.1 L165.0,1155.3 L168.0,1171.1 L171.0,1163.2 L174.0,1169.7 L177.0,1173.9 L180.0,1175.4 L183.0,1170.6 L186.0,1152.6 L189.0,1164.3 L192.0,1155.5 L195.0,1151.6 L198.0,1166.7 L200.9,1172.1 L203.9,1158.2 L206.9,1162.0 L209.9,1193.8 L212.9,1181.4 L215.9,1162.8 L218.9,1169.2 L221.9,1170.5 L224.9,1151.3 L227.9,1159.9 L230.9,1160.9 L233.9,1145.4 L236.9,1148.0 L239.9,1160.0 L242.9,1156.2 L245.9,1155.6 L248.9,1167.5 L251.9,1156.1 L254.9,1171.9 L257.9,1167.2 L260.9,1162.0 L263.9,1163.9 L266.9,1173.2 L269.9,1187.2 L272.9,1165.3 L275.9,1164.6 L278.9,1145.1 L281.9,1154.8 L284.9,1166.9 L287.9,1166.2 L290.9,1169.0 L293.9,1159.7 L296.8,1172.1 L299.8,1188.9 L302.8,1179.1 L305.8,1175.4 L308.8,1192.8 L311.8,1181.4 L314.8,1185.9 L317.8,1181.5 L320.8,1188.0 L323.8,1202.2 L326.8,1216.0 L329.8,1194.5 L332.8,1196.6 L335.8,1184.8 L338.8,1216.0 L341.8,1196.6 L344.8,1193.0 L347.8,1202.6 L350.8,1188.4 L353.8,1195.0 L356.8,1178.0 L359.8,1203.1 L362.8,1259.0 L365.8,1204.1 L368.8,1203.9 L371.8,1238.0 L374.8,1193.0 L377.8,1173.0 L380.8,1212.4 L383.8,1213.9 L386.8,1217.2 L389.8,1192.0 L392.7,1200.3 L395.7,1192.6 L398.7,1214.7 L401.7,1207.5 L404.7,1199.0 L407.7,1199.2 L410.7,1217.0 L413.7,1216.6 L416.7,1206.2 L419.7,1177.4 L422.7,1180.5 L425.7,1162.9 L428.7,1161.1 L431.7,1175.0 L434.7,1165.5 L437.7,1172.2 L440.7,1167.5 L443.7,1158.1 L446.7,1174.1 L449.7,1154.5 L452.7,1149.0 L455.7,1166.6 L458.7,1154.5 L461.7,1162.6 L464.7,1159.6 L467.7,1161.4 L470.7,1160.0 L473.7,1154.2 L476.7,1159.4 L479.7,1164.4 L482.7,1170.3 L485.7,1155.8 L488.6,1157.5 L491.6,1150.4 L494.6,1161.2 L497.6,1165.1 L500.6,1149.6 L503.6,1194.0 L506.6,1144.0 L509.6,1154.9 L512.6,1144.9 L515.6,1158.4 L518.6,1172.7 L521.6,1149.6 L524.6,1163.4 L527.6,1156.0 L530.6,1163.8 L533.6,1150.8 L536.6,1168.4 L539.6,1179.3 L542.6,1238.0 L545.6,1216.0 L548.6,1219.8 L551.6,1209.4 L554.6,1214.9 L557.6,1195.6 L560.6,1140.0 L563.6,1107.5 L566.6,1150.0 L569.6,1208.5 L572.6,1198.3 L575.6,1189.4 L578.6,1187.7 L581.6,1188.2 L584.5,1203.5 L587.5,1183.8 L590.5,1186.2 L593.5,1175.0 L596.5,1167.2 L599.5,1155.8 L602.5,1169.4 L605.5,1167.4 L608.5,1168.9 L611.5,1191.9 L614.5,1173.8 L617.5,1173.7 L620.5,1164.3 L623.5,1167.5 L626.5,1164.3 L629.5,1163.1" fill="none" stroke="#4A7EBB" stroke-width="1.8" stroke-dasharray="1.9 2.6"/>
<path d="M57.1,1080.1 L60.1,1086.8 L63.1,1078.9 L66.1,1086.6 L69.1,1078.3 L72.1,1078.0 L75.1,1078.3 L78.1,1077.4 L81.1,1085.5 L84.1,1086.5 L87.1,1081.1 L90.1,1079.4 L93.1,1077.5 L96.1,1077.6 L99.1,1086.1 L102.1,1085.7 L105.0,1086.7 L108.0,1080.8 L111.0,1081.0 L114.0,1086.0 L117.0,1081.2 L120.0,1091.7 L123.0,1086.3 L126.0,1090.5 L129.0,1096.0 L132.0,1095.0 L135.0,1087.9 L138.0,1086.8 L141.0,1091.1 L144.0,1088.3 L147.0,1085.5 L150.0,1075.4 L153.0,1074.2 L156.0,1076.5 L159.0,1083.8 L162.0,1075.5 L165.0,1091.0 L168.0,1072.5 L171.0,1081.6 L174.0,1076.7 L177.0,1083.6 L180.0,1071.7 L183.0,1083.7 L186.0,1085.7 L189.0,1075.4 L192.0,1075.3 L195.0,1082.1 L198.0,1075.7 L200.9,1081.9 L203.9,1074.1 L206.9,1075.0 L209.9,1080.8 L212.9,1074.2 L215.9,1087.8 L218.9,1077.5 L221.9,1084.8 L224.9,1074.2 L227.9,1075.8 L230.9,1082.9 L233.9,1076.3 L236.9,1079.7 L239.9,1078.3 L242.9,1078.7 L245.9,1075.9 L248.9,1079.4 L251.9,1070.5 L254.9,1082.6 L257.9,1072.0 L260.9,1073.7 L263.9,1080.7 L266.9,1081.2 L269.9,1087.8 L272.9,1078.5 L275.9,1085.3 L278.9,1080.8 L281.9,1088.3 L284.9,1078.1 L287.9,1079.2 L290.9,1083.0 L293.9,1079.2 L296.8,1086.2 L299.8,1079.1 L302.8,1084.1 L305.8,1074.1 L308.8,1082.7 L311.8,1087.8 L314.8,1085.9 L317.8,1075.8 L320.8,1078.5 L323.8,1081.0 L326.8,1080.7 L329.8,1075.5 L332.8,1082.5 L335.8,1081.9 L338.8,1091.0 L341.8,1078.4 L344.8,1083.7 L347.8,1088.0 L350.8,1080.1 L353.8,1089.2 L356.8,1081.4 L359.8,1091.9 L362.8,1108.7 L365.8,1085.4 L368.8,1092.4 L371.8,1090.8 L374.8,1097.0 L377.8,1088.5 L380.8,1096.9 L383.8,1094.0 L386.8,1096.0 L389.8,1092.8 L392.7,1094.6 L395.7,1087.2 L398.7,1086.6 L401.7,1091.3 L404.7,1088.3 L407.7,1093.2 L410.7,1081.5 L413.7,1079.5 L416.7,1078.7 L419.7,1080.8 L422.7,1074.3 L425.7,1080.4 L428.7,1074.4 L431.7,1079.4 L434.7,1074.5 L437.7,1080.0 L440.7,1080.3 L443.7,1072.4 L446.7,1071.0 L449.7,1068.8 L452.7,1076.9 L455.7,1074.3 L458.7,1081.2 L461.7,1077.0 L464.7,1074.4 L467.7,1081.4 L470.7,1074.4 L473.7,1071.7 L476.7,1076.9 L479.7,1076.1 L482.7,1080.8 L485.7,1076.1 L488.6,1070.0 L491.6,1071.7 L494.6,1071.3 L497.6,1080.9 L500.6,1070.5 L503.6,1106.4 L506.6,1070.9 L509.6,1072.1 L512.6,1076.3 L515.6,1070.7 L518.6,1071.3 L521.6,1074.6 L524.6,1070.9 L527.6,1071.6 L530.6,1075.7 L533.6,1067.0 L536.6,1074.3 L539.6,1083.2 L542.6,1097.0 L545.6,1085.8 L548.6,1077.8 L551.6,1087.4 L554.6,1084.8 L557.6,1076.6 L560.6,1075.6 L563.6,1075.1 L566.6,1076.5 L569.6,1083.7 L572.6,1076.0 L575.6,1074.5 L578.6,1073.3 L581.6,1075.5 L584.5,1081.5 L587.5,1074.4 L590.5,1075.0 L593.5,1081.0 L596.5,1076.4 L599.5,1075.2 L602.5,1081.9 L605.5,1075.4 L608.5,1079.1 L611.5,1082.3 L614.5,1076.9 L617.5,1080.9 L620.5,1078.4 L623.5,1082.0 L626.5,1084.6 L629.5,1084.4" fill="none" stroke="#BC3C3C" stroke-width="1.8" stroke-dasharray="1.9 2.6"/>
<path d="M57.1,1175.2 L60.1,1152.6 L63.1,1187.0 L66.1,1187.0 L69.1,1189.5 L72.1,1175.7 L75.1,1186.9 L78.1,1218.4 L81.1,1182.8 L84.1,1182.6 L87.1,1168.7 L90.1,1174.0 L93.1,1169.8 L96.1,1159.7 L99.1,1174.5 L102.1,1154.6 L105.0,1169.0 L108.0,1169.4 L111.0,1166.4 L114.0,1173.1 L117.0,1167.9 L120.0,1168.5 L123.0,1142.0 L126.0,1160.5 L129.0,1145.7 L132.0,1153.0 L135.0,1164.6 L138.0,1180.0 L141.0,1143.3 L144.0,1173.1 L147.0,1191.1 L150.0,1169.4 L153.0,1193.0 L156.0,1180.2 L159.0,1180.4 L162.0,1175.0 L165.0,1180.8 L168.0,1170.7 L171.0,1181.2 L174.0,1173.9 L177.0,1174.4 L180.0,1181.0 L183.0,1193.0 L186.0,1179.7 L189.0,1181.4 L192.0,1171.7 L195.0,1178.4 L198.0,1154.9 L200.9,1183.5 L203.9,1176.1 L206.9,1167.2 L209.9,1182.6 L212.9,1185.3 L215.9,1211.5 L218.9,1193.6 L221.9,1190.7 L224.9,1187.5 L227.9,1173.4 L230.9,1181.9 L233.9,1174.3 L236.9,1211.5 L239.9,1182.4 L242.9,1188.2 L245.9,1189.5 L248.9,1178.7 L251.9,1194.6 L254.9,1180.9 L257.9,1186.9 L260.9,1177.2 L263.9,1164.0 L266.9,1173.5 L269.9,1189.5 L272.9,1197.3 L275.9,1205.7 L278.9,1184.6 L281.9,1178.7 L284.9,1202.4 L287.9,1199.3 L290.9,1186.5 L293.9,1179.1 L296.8,1170.5 L299.8,1201.1 L302.8,1173.5 L305.8,1154.9 L308.8,1172.2 L311.8,1160.3 L314.8,1165.8 L317.8,1161.5 L320.8,1157.9 L323.8,1167.0 L326.8,1155.8 L329.8,1170.6 L332.8,1130.6 L335.8,1182.2 L338.8,1133.0 L341.8,1164.6 L344.8,1150.9 L347.8,1155.3 L350.8,1156.8 L353.8,1147.8 L356.8,1157.7 L359.8,1158.8 L362.8,1160.3 L365.8,1146.6 L368.8,1165.1 L371.8,1164.9 L374.8,1151.3 L377.8,1167.9 L380.8,1169.1 L383.8,1153.4 L386.8,1147.3 L389.8,1165.1 L392.7,1162.9 L395.7,1172.2 L398.7,1134.0 L401.7,1150.2 L404.7,1167.0 L407.7,1142.5 L410.7,1163.2 L413.7,1149.1 L416.7,1162.4 L419.7,1162.4 L422.7,1150.3 L425.7,1161.3 L428.7,1145.5 L431.7,1160.4 L434.7,1151.6 L437.7,1167.2 L440.7,1173.9 L443.7,1172.3 L446.7,1173.5 L449.7,1169.6 L452.7,1177.5 L455.7,1193.6 L458.7,1196.4 L461.7,1197.3 L464.7,1194.3 L467.7,1209.2 L470.7,1205.7 L473.7,1224.1 L476.7,1226.5 L479.7,1194.8 L482.7,1176.6 L485.7,1198.2 L488.6,1207.8 L491.6,1208.0 L494.6,1259.0 L497.6,1198.4 L500.6,1186.5 L503.6,1199.7 L506.6,1186.6 L509.6,1201.8 L512.6,1184.5 L515.6,1187.1 L518.6,1202.5 L521.6,1200.5 L524.6,1218.4 L527.6,1181.9 L530.6,1210.1 L533.6,1189.7 L536.6,1184.2 L539.6,1149.6 L542.6,1156.1 L545.6,1142.5 L548.6,1135.5 L551.6,1147.7 L554.6,1137.5 L557.6,1157.1 L560.6,1152.9 L563.6,1176.8 L566.6,1166.0 L569.6,1166.4 L572.6,1195.1 L575.6,1161.6 L578.6,1175.7 L581.6,1164.8 L584.5,1181.6 L587.5,1163.5 L590.5,1183.7 L593.5,1159.6 L596.5,1161.1 L599.5,1176.8 L602.5,1175.5 L605.5,1167.9 L608.5,1181.9 L611.5,1166.6 L614.5,1161.1 L617.5,1157.3 L620.5,1218.4 L623.5,1189.7 L626.5,1211.2 L629.5,1260.0" fill="none" stroke="#98BB55" stroke-width="1.9" stroke-linejoin="round" stroke-linecap="round"/>
<path d="M57.1,1028.0 L60.1,1036.0 L63.1,1031.1 L66.1,1041.6 L69.1,1029.8 L72.1,1043.4 L75.1,1031.9 L78.1,1045.0 L81.1,1040.0 L84.1,1028.2 L87.1,1037.9 L90.1,1027.5 L93.1,1017.4 L96.1,1027.3 L99.1,1035.2 L102.1,1025.1 L105.0,1035.0 L108.0,1055.5 L111.0,1035.9 L114.0,1025.7 L117.0,1035.3 L120.0,1026.3 L123.0,1033.4 L126.0,1044.0 L129.0,1033.1 L132.0,1023.0 L135.0,1034.3 L138.0,1040.0 L141.0,1023.5 L144.0,1035.2 L147.0,1023.6 L150.0,1033.9 L153.0,1024.3 L156.0,1016.2 L159.0,1033.0 L162.0,1019.3 L165.0,1030.3 L168.0,1023.1 L171.0,1031.0 L174.0,1020.6 L177.0,1030.3 L180.0,1020.8 L183.0,1038.0 L186.0,1019.4 L189.0,1018.3 L192.0,1030.1 L195.0,1023.0 L198.0,1033.2 L200.9,1030.2 L203.9,1023.1 L206.9,1031.3 L209.9,1022.4 L212.9,1021.5 L215.9,1030.8 L218.9,1021.3 L221.9,1032.0 L224.9,1021.2 L227.9,1036.4 L230.9,1053.0 L233.9,1037.4 L236.9,1038.4 L239.9,1031.6 L242.9,1040.3 L245.9,1032.4 L248.9,1038.4 L251.9,1028.7 L254.9,1038.9 L257.9,1037.1 L260.9,1026.9 L263.9,1041.0 L266.9,1029.9 L269.9,1039.8 L272.9,1030.2 L275.9,1038.0 L278.9,1025.5 L281.9,1035.6 L284.9,1021.5 L287.9,1036.1 L290.9,1020.2 L293.9,1030.2 L296.8,1024.0 L299.8,1031.3 L302.8,1030.7 L305.8,1028.4 L308.8,1019.1 L311.8,1026.4 L314.8,1019.9 L317.8,1015.0 L320.8,1025.7 L323.8,1018.4 L326.8,1031.0 L329.8,1017.8 L332.8,1027.7 L335.8,1023.1 L338.8,1032.4 L341.8,1021.2 L344.8,1030.0 L347.8,1021.3 L350.8,1023.0 L353.8,1028.0 L356.8,1023.4 L359.8,1045.0 L362.8,1024.3 L365.8,1033.9 L368.8,1036.7 L371.8,1034.5 L374.8,1045.0 L377.8,1038.2 L380.8,1034.1 L383.8,1025.1 L386.8,1033.3 L389.8,1023.7 L392.7,1029.4 L395.7,1020.6 L398.7,1015.0 L401.7,1016.6 L404.7,1026.5 L407.7,1013.2 L410.7,1022.1 L413.7,1033.6 L416.7,1025.0 L419.7,1019.7 L422.7,1030.8 L425.7,1016.2 L428.7,1024.5 L431.7,1019.5 L434.7,1027.7 L437.7,1014.5 L440.7,1024.5 L443.7,1013.1 L446.7,1024.8 L449.7,1022.5 L452.7,1023.2 L455.7,1044.0 L458.7,1038.4 L461.7,1032.5 L464.7,1043.3 L467.7,1026.6 L470.7,1043.3 L473.7,1041.3 L476.7,1042.0 L479.7,1029.3 L482.7,1038.6 L485.7,1048.6 L488.6,1037.9 L491.6,1031.4 L494.6,1041.8 L497.6,1033.3 L500.6,1037.3 L503.6,1064.8 L506.6,1038.7 L509.6,1030.4 L512.6,1035.9 L515.6,1024.5 L518.6,1035.0 L521.6,1032.4 L524.6,1038.0 L527.6,1032.8 L530.6,1026.5 L533.6,1033.6 L536.6,1023.1 L539.6,1032.0 L542.6,1038.0 L545.6,1033.0 L548.6,1016.2 L551.6,1016.2 L554.6,1030.7 L557.6,1016.8 L560.6,1026.8 L563.6,1042.8 L566.6,1026.6 L569.6,1018.8 L572.6,1026.9 L575.6,1019.5 L578.6,1017.4 L581.6,1019.0 L584.5,1029.0 L587.5,1019.7 L590.5,1022.5 L593.5,1032.9 L596.5,1024.9 L599.5,1033.8 L602.5,1032.8 L605.5,1020.2 L608.5,1029.7 L611.5,1044.0 L614.5,1021.5 L617.5,1033.9 L620.5,1032.4 L623.5,1021.9 L626.5,1032.1 L629.5,1036.0" fill="none" stroke="#7D60A0" stroke-width="1.9" stroke-linejoin="round" stroke-linecap="round"/>
<line x1="647" y1="1105" x2="671.5" y2="1105" stroke="#4A7EBB" stroke-width="1.3" stroke-linecap="round" stroke-dasharray="0.1 2.7" stroke-opacity="0.85"/>
<text x="676" y="1109.0" font-family="Liberation Sans, sans-serif" font-weight="bold" font-size="11" textLength="119.4" lengthAdjust="spacingAndGlyphs" fill="#111" stroke="#111" stroke-width="0.25">Genes (18.92 genes/Mb)</text>
<line x1="647" y1="1122" x2="671.5" y2="1122" stroke="#BC3C3C" stroke-width="1.3" stroke-linecap="round" stroke-dasharray="0.1 2.7" stroke-opacity="0.85"/>
<text x="676" y="1126.0" font-family="Liberation Sans, sans-serif" font-weight="bold" font-size="11" textLength="111.3" lengthAdjust="spacingAndGlyphs" fill="#111" stroke="#111" stroke-width="0.25">SSRs (350.27 SSRs/Mb)</text>
<line x1="646" y1="1140.6" x2="671.5" y2="1140.6" stroke="#98BB55" stroke-width="1.6"/>
<text x="676" y="1144.6" font-family="Liberation Sans, sans-serif" font-weight="bold" font-size="11" textLength="92.1" lengthAdjust="spacingAndGlyphs" fill="#111" stroke="#111" stroke-width="0.25">TEs (21.97 TEs/Mb)</text>
<line x1="646" y1="1157.6" x2="671.5" y2="1157.6" stroke="#7D60A0" stroke-width="1.6"/>
<text x="676" y="1161.6" font-family="Liberation Sans, sans-serif" font-weight="bold" font-size="11" textLength="120.2" lengthAdjust="spacingAndGlyphs" fill="#111" stroke="#111" stroke-width="0.25">SNPs (1897.07 SNPs/Mb)</text>
</svg></body></html>
